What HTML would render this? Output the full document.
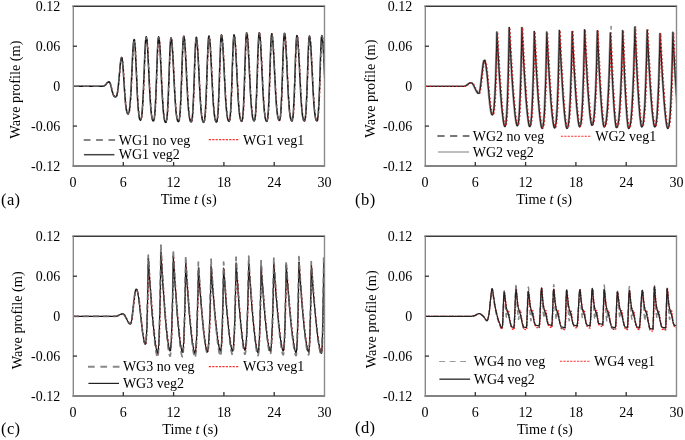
<!DOCTYPE html><html><head><meta charset="utf-8"><style>html,body{margin:0;padding:0;background:#fff;overflow:hidden;}svg{display:block;will-change:transform;}</style></head><body><svg width="685" height="440" viewBox="0 0 685 440" font-family='"Liberation Serif", serif'>
<rect width="100%" height="100%" fill="#fff"/>
<defs>
<clipPath id="clipa"><rect x="73.0" y="6.3" width="251.5" height="159.7"/></clipPath>
<clipPath id="clipb"><rect x="425.0" y="6.3" width="251.5" height="159.7"/></clipPath>
<clipPath id="clipc"><rect x="73.0" y="236.3" width="251.5" height="159.7"/></clipPath>
<clipPath id="clipd"><rect x="425.0" y="236.3" width="251.5" height="159.7"/></clipPath>
</defs>
<g clip-path="url(#clipa)" fill="none" stroke-linejoin="round">
<path d="M73.0,86.3 103.0,86.3 103.3,86.3 103.7,86.2 104.0,86.0 104.4,85.8 104.7,85.5 105.0,85.2 105.4,84.9 105.7,84.5 106.0,84.1 106.4,83.7 106.7,83.3 107.1,82.9 107.4,82.6 107.7,82.3 108.1,82.1 108.4,81.9 108.8,81.8 109.1,81.8 109.4,82.0 109.8,82.5 110.1,83.3 110.4,84.3 110.8,85.6 111.1,86.9 111.5,88.4 111.8,89.8 112.1,91.2 112.5,92.4 112.8,93.6 113.1,94.5 113.5,95.3 113.8,95.9 114.2,96.3 114.5,96.6 114.8,96.8 115.2,97.0 115.5,97.0 115.8,96.9 116.2,96.5 116.5,95.9 116.9,95.0 117.2,93.6 117.5,91.8 117.9,89.5 118.2,86.8 118.5,83.5 118.9,79.9 119.2,76.0 119.6,72.0 119.9,68.1 120.2,64.6 120.6,61.5 120.9,59.2 121.3,57.8 121.6,57.3 121.9,57.9 122.3,59.8 122.6,62.8 122.9,66.7 123.3,71.4 123.6,76.5 124.0,81.9 124.3,87.2 124.6,92.3 125.0,97.0 125.3,101.1 125.6,104.6 126.0,107.5 126.3,109.8 126.7,111.4 127.0,112.6 127.3,113.4 127.7,113.9 128.0,114.0 128.3,113.8 128.7,113.1 129.0,112.0 129.4,110.2 129.7,107.7 130.0,104.3 130.4,100.0 130.7,94.8 131.1,88.7 131.4,81.8 131.7,74.5 132.1,67.1 132.4,59.8 132.7,53.1 133.1,47.5 133.4,43.1 133.8,40.4 134.1,39.5 134.4,40.5 134.8,43.4 135.2,48.1 135.5,54.3 135.8,61.5 136.2,69.4 136.6,77.5 136.9,85.4 137.2,92.8 137.6,99.4 137.9,105.1 138.3,109.7 138.7,113.4 139.0,116.1 139.3,118.0 139.7,119.3 140.1,120.0 140.4,120.2 140.7,119.9 141.1,119.1 141.4,117.7 141.8,115.4 142.1,112.1 142.4,107.8 142.8,102.3 143.1,95.6 143.5,87.9 143.8,79.4 144.2,70.6 144.5,61.9 144.8,53.7 145.2,46.7 145.5,41.4 145.9,38.0 146.2,36.8 146.5,37.6 146.9,39.8 147.2,43.5 147.6,48.4 147.9,54.3 148.2,60.9 148.6,68.0 148.9,75.2 149.2,82.3 149.6,89.2 149.9,95.4 150.3,101.1 150.6,106.0 150.9,110.1 151.3,113.4 151.6,116.0 151.9,118.0 152.3,119.4 152.6,120.3 153.0,120.8 153.3,121.0 153.7,120.7 154.0,119.6 154.4,117.6 154.7,114.5 155.1,110.1 155.4,104.1 155.8,96.6 156.1,87.8 156.5,78.1 156.8,68.0 157.2,58.2 157.5,49.5 157.9,42.7 158.2,38.3 158.6,36.8 158.9,37.6 159.3,39.9 159.6,43.6 160.0,48.6 160.3,54.6 160.6,61.3 161.0,68.5 161.3,75.8 161.6,83.1 162.0,90.0 162.3,96.4 162.7,102.1 163.0,107.1 163.3,111.3 163.7,114.7 164.0,117.3 164.3,119.3 164.7,120.7 165.0,121.7 165.4,122.2 165.7,122.4 166.1,122.1 166.4,121.0 166.8,119.0 167.1,115.9 167.5,111.4 167.8,105.4 168.2,97.9 168.5,89.0 168.9,79.2 169.2,69.0 169.6,59.2 169.9,50.5 170.3,43.6 170.6,39.2 171.0,37.7 171.3,38.4 171.7,40.5 172.0,43.8 172.3,48.3 172.7,53.7 173.0,59.9 173.4,66.5 173.7,73.4 174.0,80.2 174.4,86.9 174.7,93.1 175.0,98.8 175.4,103.9 175.7,108.3 176.0,111.9 176.4,114.9 176.7,117.2 177.1,119.0 177.4,120.2 177.7,121.1 178.1,121.5 178.4,121.7 178.8,121.4 179.1,120.3 179.5,118.3 179.8,115.1 180.2,110.6 180.5,104.5 180.9,96.9 181.2,88.0 181.6,78.1 181.9,67.8 182.3,57.9 182.6,49.1 183.0,42.2 183.3,37.7 183.7,36.2 184.0,36.9 184.4,39.0 184.7,42.4 185.0,47.0 185.4,52.6 185.7,58.8 186.1,65.6 186.4,72.6 186.7,79.7 187.1,86.4 187.4,92.8 187.7,98.7 188.1,103.8 188.4,108.3 188.7,112.0 189.1,115.0 189.4,117.4 189.8,119.2 190.1,120.5 190.4,121.4 190.8,121.8 191.1,122.0 191.4,121.7 191.8,120.6 192.1,118.6 192.5,115.5 192.8,111.0 193.1,105.0 193.5,97.5 193.8,88.6 194.2,78.8 194.5,68.6 194.8,58.8 195.2,50.1 195.5,43.2 195.9,38.8 196.2,37.3 196.5,38.0 196.9,40.1 197.2,43.5 197.5,48.0 197.9,53.5 198.2,59.8 198.6,66.5 198.9,73.4 199.2,80.4 199.6,87.1 199.9,93.5 200.2,99.2 200.6,104.4 200.9,108.8 201.2,112.5 201.6,115.5 201.9,117.8 202.3,119.6 202.6,120.9 202.9,121.8 203.3,122.2 203.6,122.4 204.0,122.1 204.3,121.0 204.7,118.9 205.0,115.7 205.4,111.2 205.7,105.1 206.1,97.4 206.4,88.4 206.8,78.4 207.1,68.0 207.5,58.0 207.8,49.1 208.2,42.1 208.5,37.6 208.9,36.1 209.2,36.8 209.6,38.9 209.9,42.4 210.3,46.9 210.6,52.5 210.9,58.8 211.3,65.6 211.6,72.6 212.0,79.7 212.3,86.5 212.7,92.9 213.0,98.7 213.3,103.9 213.7,108.3 214.0,112.1 214.4,115.1 214.7,117.5 215.0,119.3 215.4,120.6 215.7,121.5 216.1,121.9 216.4,122.1 216.7,121.7 217.1,120.6 217.4,118.6 217.7,115.4 218.1,110.8 218.4,104.6 218.7,96.8 219.1,87.7 219.4,77.6 219.7,67.1 220.1,57.0 220.4,48.0 220.7,40.9 221.1,36.4 221.4,34.8 221.7,35.5 222.1,37.7 222.4,41.1 222.8,45.7 223.1,51.3 223.5,57.7 223.8,64.5 224.2,71.6 224.5,78.7 224.9,85.5 225.2,92.0 225.5,97.8 225.9,103.1 226.2,107.6 226.6,111.3 226.9,114.4 227.3,116.8 227.6,118.6 228.0,119.9 228.3,120.7 228.7,121.2 229.0,121.4 229.3,121.1 229.7,119.9 230.0,117.9 230.3,114.7 230.7,110.1 231.0,104.0 231.3,96.3 231.7,87.3 232.0,77.3 232.3,66.8 232.7,56.8 233.0,47.9 233.3,40.8 233.7,36.3 234.0,34.8 234.3,35.5 234.7,37.7 235.0,41.1 235.4,45.7 235.7,51.3 236.1,57.7 236.4,64.5 236.8,71.6 237.1,78.7 237.5,85.5 237.8,92.0 238.1,97.8 238.5,103.1 238.8,107.6 239.2,111.3 239.5,114.4 239.9,116.8 240.2,118.6 240.6,119.9 240.9,120.7 241.3,121.2 241.6,121.4 241.9,121.0 242.3,119.9 242.6,117.8 242.9,114.6 243.3,109.9 243.6,103.6 243.9,95.7 244.3,86.5 244.6,76.2 244.9,65.5 245.3,55.2 245.6,46.1 245.9,38.9 246.3,34.3 246.6,32.7 246.9,33.4 247.3,35.6 247.6,39.1 248.0,43.8 248.3,49.5 248.6,56.0 249.0,63.0 249.3,70.2 249.7,77.4 250.0,84.4 250.3,91.0 250.7,97.0 251.0,102.3 251.4,106.9 251.7,110.7 252.1,113.8 252.4,116.3 252.7,118.1 253.1,119.4 253.4,120.3 253.8,120.8 254.1,121.0 254.4,120.6 254.8,119.5 255.1,117.4 255.5,114.2 255.8,109.5 256.1,103.3 256.5,95.4 256.8,86.2 257.2,76.0 257.5,65.4 257.8,55.1 258.2,46.0 258.5,38.9 258.9,34.3 259.2,32.7 259.5,33.4 259.9,35.6 260.2,39.2 260.6,43.9 260.9,49.6 261.2,56.1 261.6,63.1 261.9,70.4 262.3,77.6 262.6,84.6 262.9,91.2 263.3,97.3 263.6,102.6 264.0,107.2 264.3,111.1 264.7,114.2 265.0,116.7 265.3,118.5 265.7,119.8 266.0,120.7 266.4,121.2 266.7,121.4 267.0,121.0 267.4,119.9 267.7,117.9 268.0,114.6 268.4,110.0 268.7,103.8 269.0,96.0 269.4,86.9 269.7,76.7 270.0,66.2 270.4,56.0 270.7,47.0 271.0,39.9 271.4,35.4 271.7,33.8 272.0,34.5 272.4,36.7 272.7,40.1 273.1,44.7 273.4,50.3 273.8,56.7 274.1,63.5 274.5,70.6 274.8,77.7 275.2,84.5 275.5,91.0 275.8,96.8 276.2,102.1 276.5,106.6 276.9,110.3 277.2,113.4 277.6,115.8 277.9,117.6 278.3,118.9 278.6,119.7 279.0,120.2 279.3,120.4 279.6,120.1 280.0,118.9 280.3,116.9 280.7,113.7 281.0,109.1 281.3,102.9 281.7,95.2 282.0,86.0 282.4,75.9 282.7,65.5 283.0,55.3 283.4,46.3 283.7,39.3 284.1,34.8 284.4,33.2 284.7,33.9 285.1,36.1 285.4,39.6 285.7,44.3 286.1,49.9 286.4,56.4 286.8,63.3 287.1,70.5 287.4,77.7 287.8,84.6 288.1,91.1 288.4,97.1 288.8,102.4 289.1,107.0 289.4,110.8 289.8,113.9 290.1,116.3 290.5,118.1 290.8,119.5 291.1,120.3 291.5,120.8 291.8,121.0 292.1,120.7 292.5,119.6 292.8,117.6 293.2,114.4 293.5,109.9 293.8,103.8 294.2,96.2 294.5,87.3 294.9,77.4 295.2,67.1 295.5,57.1 295.9,48.3 296.2,41.4 296.6,36.9 296.9,35.4 297.2,36.1 297.6,38.2 297.9,41.6 298.2,46.2 298.6,51.7 298.9,58.0 299.3,64.8 299.6,71.8 299.9,78.8 300.3,85.5 300.6,91.9 300.9,97.7 301.3,102.9 301.6,107.3 301.9,111.0 302.3,114.1 302.6,116.4 303.0,118.2 303.3,119.5 303.6,120.4 304.0,120.8 304.3,121.0 304.6,120.7 305.0,119.6 305.3,117.6 305.7,114.4 306.0,109.9 306.3,103.9 306.7,96.4 307.0,87.5 307.4,77.6 307.7,67.4 308.0,57.5 308.4,48.7 308.7,41.8 309.1,37.4 309.4,35.9 309.7,36.6 310.1,38.7 310.4,42.1 310.8,46.6 311.1,52.1 311.4,58.4 311.8,65.1 312.1,72.0 312.5,79.0 312.8,85.7 313.1,92.1 313.5,97.8 313.8,103.0 314.2,107.4 314.5,111.1 314.9,114.1 315.2,116.4 315.5,118.2 315.9,119.5 316.2,120.4 316.6,120.8 316.9,121.0 317.2,120.6 317.6,119.3 317.9,117.0 318.3,113.3 318.6,107.9 319.0,100.7 319.4,91.9 319.7,81.7 320.1,70.7 320.4,59.9 320.8,50.1 321.1,42.2 321.4,37.2 321.8,35.4 322.1,36.2 322.5,38.5 322.8,42.2 323.2,47.2 323.5,53.2 323.9,59.9 324.2,67.1 324.5,74.4 324.9,81.7 325.2,88.6 325.6,95.0 325.9,100.7 326.3,105.7 326.6,109.9 326.9,113.3 327.3,115.9 327.6,117.9 328.0,119.3 328.3,120.3 328.7,120.8 329.0,121.0" transform="translate(0.4,0)" stroke="#d02020" stroke-width="1.2" stroke-dasharray="1.5,2.5"/>
<path d="M73.0,86.3 103.0,86.3 103.3,86.3 103.7,86.2 104.0,86.0 104.4,85.8 104.7,85.5 105.0,85.2 105.4,84.9 105.7,84.5 106.0,84.1 106.4,83.7 106.7,83.3 107.1,82.9 107.4,82.6 107.7,82.3 108.1,82.1 108.4,81.9 108.8,81.8 109.1,81.8 109.4,82.0 109.8,82.5 110.1,83.3 110.4,84.3 110.8,85.6 111.1,86.9 111.5,88.4 111.8,89.8 112.1,91.2 112.5,92.4 112.8,93.6 113.1,94.5 113.5,95.3 113.8,95.9 114.2,96.3 114.5,96.6 114.8,96.8 115.2,97.0 115.5,97.0 115.8,96.9 116.2,96.5 116.5,95.9 116.9,95.0 117.2,93.6 117.5,91.8 117.9,89.5 118.2,86.8 118.5,83.5 118.9,79.9 119.2,76.0 119.6,72.0 119.9,68.1 120.2,64.6 120.6,61.5 120.9,59.2 121.3,57.8 121.6,57.3 121.9,57.9 122.3,59.8 122.6,62.8 122.9,66.7 123.3,71.4 123.6,76.5 124.0,81.9 124.3,87.2 124.6,92.3 125.0,97.0 125.3,101.1 125.6,104.6 126.0,107.5 126.3,109.8 126.7,111.4 127.0,112.6 127.3,113.4 127.7,113.9 128.0,114.0 128.3,113.8 128.7,113.1 129.0,112.0 129.4,110.2 129.7,107.7 130.0,104.3 130.4,100.0 130.7,94.8 131.1,88.7 131.4,81.8 131.7,74.5 132.1,67.1 132.4,59.8 132.7,53.1 133.1,47.5 133.4,43.1 133.8,40.4 134.1,39.5 134.4,40.5 134.8,43.4 135.2,48.1 135.5,54.3 135.8,61.5 136.2,69.4 136.6,77.5 136.9,85.4 137.2,92.8 137.6,99.4 137.9,105.1 138.3,109.7 138.7,113.4 139.0,116.1 139.3,118.0 139.7,119.3 140.1,120.0 140.4,120.2 140.7,119.9 141.1,119.1 141.4,117.7 141.8,115.4 142.1,112.1 142.4,107.8 142.8,102.3 143.1,95.6 143.5,87.9 143.8,79.4 144.2,70.6 144.5,61.9 144.8,53.7 145.2,46.7 145.5,41.4 145.9,38.0 146.2,36.8 146.5,37.6 146.9,39.8 147.2,43.5 147.6,48.4 147.9,54.3 148.2,60.9 148.6,68.0 148.9,75.2 149.2,82.3 149.6,89.2 149.9,95.4 150.3,101.1 150.6,106.0 150.9,110.1 151.3,113.4 151.6,116.0 151.9,118.0 152.3,119.4 152.6,120.3 153.0,120.8 153.3,121.0 153.7,120.7 154.0,119.6 154.4,117.6 154.7,114.5 155.1,110.1 155.4,104.1 155.8,96.6 156.1,87.8 156.5,78.1 156.8,68.0 157.2,58.2 157.5,49.5 157.9,42.7 158.2,38.3 158.6,36.8 158.9,37.6 159.3,39.9 159.6,43.6 160.0,48.6 160.3,54.6 160.6,61.3 161.0,68.5 161.3,75.8 161.6,83.1 162.0,90.0 162.3,96.4 162.7,102.1 163.0,107.1 163.3,111.3 163.7,114.7 164.0,117.3 164.3,119.3 164.7,120.7 165.0,121.7 165.4,122.2 165.7,122.4 166.1,122.1 166.4,121.0 166.8,119.0 167.1,115.9 167.5,111.4 167.8,105.4 168.2,97.9 168.5,89.0 168.9,79.2 169.2,69.0 169.6,59.2 169.9,50.5 170.3,43.6 170.6,39.2 171.0,37.7 171.3,38.4 171.7,40.5 172.0,43.8 172.3,48.3 172.7,53.7 173.0,59.9 173.4,66.5 173.7,73.4 174.0,80.2 174.4,86.9 174.7,93.1 175.0,98.8 175.4,103.9 175.7,108.3 176.0,111.9 176.4,114.9 176.7,117.2 177.1,119.0 177.4,120.2 177.7,121.1 178.1,121.5 178.4,121.7 178.8,121.4 179.1,120.3 179.5,118.3 179.8,115.1 180.2,110.6 180.5,104.5 180.9,96.9 181.2,88.0 181.6,78.1 181.9,67.8 182.3,57.9 182.6,49.1 183.0,42.2 183.3,37.7 183.7,36.2 184.0,36.9 184.4,39.0 184.7,42.4 185.0,47.0 185.4,52.6 185.7,58.8 186.1,65.6 186.4,72.6 186.7,79.7 187.1,86.4 187.4,92.8 187.7,98.7 188.1,103.8 188.4,108.3 188.7,112.0 189.1,115.0 189.4,117.4 189.8,119.2 190.1,120.5 190.4,121.4 190.8,121.8 191.1,122.0 191.4,121.7 191.8,120.6 192.1,118.6 192.5,115.5 192.8,111.0 193.1,105.0 193.5,97.5 193.8,88.6 194.2,78.8 194.5,68.6 194.8,58.8 195.2,50.1 195.5,43.2 195.9,38.8 196.2,37.3 196.5,38.0 196.9,40.1 197.2,43.5 197.5,48.0 197.9,53.5 198.2,59.8 198.6,66.5 198.9,73.4 199.2,80.4 199.6,87.1 199.9,93.5 200.2,99.2 200.6,104.4 200.9,108.8 201.2,112.5 201.6,115.5 201.9,117.8 202.3,119.6 202.6,120.9 202.9,121.8 203.3,122.2 203.6,122.4 204.0,122.1 204.3,121.0 204.7,118.9 205.0,115.7 205.4,111.2 205.7,105.1 206.1,97.4 206.4,88.4 206.8,78.4 207.1,68.0 207.5,58.0 207.8,49.1 208.2,42.1 208.5,37.6 208.9,36.1 209.2,36.8 209.6,38.9 209.9,42.4 210.3,46.9 210.6,52.5 210.9,58.8 211.3,65.6 211.6,72.6 212.0,79.7 212.3,86.5 212.7,92.9 213.0,98.7 213.3,103.9 213.7,108.3 214.0,112.1 214.4,115.1 214.7,117.5 215.0,119.3 215.4,120.6 215.7,121.5 216.1,121.9 216.4,122.1 216.7,121.7 217.1,120.6 217.4,118.6 217.7,115.4 218.1,110.8 218.4,104.6 218.7,96.8 219.1,87.7 219.4,77.6 219.7,67.1 220.1,57.0 220.4,48.0 220.7,40.9 221.1,36.4 221.4,34.8 221.7,35.5 222.1,37.7 222.4,41.1 222.8,45.7 223.1,51.3 223.5,57.7 223.8,64.5 224.2,71.6 224.5,78.7 224.9,85.5 225.2,92.0 225.5,97.8 225.9,103.1 226.2,107.6 226.6,111.3 226.9,114.4 227.3,116.8 227.6,118.6 228.0,119.9 228.3,120.7 228.7,121.2 229.0,121.4 229.3,121.1 229.7,119.9 230.0,117.9 230.3,114.7 230.7,110.1 231.0,104.0 231.3,96.3 231.7,87.3 232.0,77.3 232.3,66.8 232.7,56.8 233.0,47.9 233.3,40.8 233.7,36.3 234.0,34.8 234.3,35.5 234.7,37.7 235.0,41.1 235.4,45.7 235.7,51.3 236.1,57.7 236.4,64.5 236.8,71.6 237.1,78.7 237.5,85.5 237.8,92.0 238.1,97.8 238.5,103.1 238.8,107.6 239.2,111.3 239.5,114.4 239.9,116.8 240.2,118.6 240.6,119.9 240.9,120.7 241.3,121.2 241.6,121.4 241.9,121.0 242.3,119.9 242.6,117.8 242.9,114.6 243.3,109.9 243.6,103.6 243.9,95.7 244.3,86.5 244.6,76.2 244.9,65.5 245.3,55.2 245.6,46.1 245.9,38.9 246.3,34.3 246.6,32.7 246.9,33.4 247.3,35.6 247.6,39.1 248.0,43.8 248.3,49.5 248.6,56.0 249.0,63.0 249.3,70.2 249.7,77.4 250.0,84.4 250.3,91.0 250.7,97.0 251.0,102.3 251.4,106.9 251.7,110.7 252.1,113.8 252.4,116.3 252.7,118.1 253.1,119.4 253.4,120.3 253.8,120.8 254.1,121.0 254.4,120.6 254.8,119.5 255.1,117.4 255.5,114.2 255.8,109.5 256.1,103.3 256.5,95.4 256.8,86.2 257.2,76.0 257.5,65.4 257.8,55.1 258.2,46.0 258.5,38.9 258.9,34.3 259.2,32.7 259.5,33.4 259.9,35.6 260.2,39.2 260.6,43.9 260.9,49.6 261.2,56.1 261.6,63.1 261.9,70.4 262.3,77.6 262.6,84.6 262.9,91.2 263.3,97.3 263.6,102.6 264.0,107.2 264.3,111.1 264.7,114.2 265.0,116.7 265.3,118.5 265.7,119.8 266.0,120.7 266.4,121.2 266.7,121.4 267.0,121.0 267.4,119.9 267.7,117.9 268.0,114.6 268.4,110.0 268.7,103.8 269.0,96.0 269.4,86.9 269.7,76.7 270.0,66.2 270.4,56.0 270.7,47.0 271.0,39.9 271.4,35.4 271.7,33.8 272.0,34.5 272.4,36.7 272.7,40.1 273.1,44.7 273.4,50.3 273.8,56.7 274.1,63.5 274.5,70.6 274.8,77.7 275.2,84.5 275.5,91.0 275.8,96.8 276.2,102.1 276.5,106.6 276.9,110.3 277.2,113.4 277.6,115.8 277.9,117.6 278.3,118.9 278.6,119.7 279.0,120.2 279.3,120.4 279.6,120.1 280.0,118.9 280.3,116.9 280.7,113.7 281.0,109.1 281.3,102.9 281.7,95.2 282.0,86.0 282.4,75.9 282.7,65.5 283.0,55.3 283.4,46.3 283.7,39.3 284.1,34.8 284.4,33.2 284.7,33.9 285.1,36.1 285.4,39.6 285.7,44.3 286.1,49.9 286.4,56.4 286.8,63.3 287.1,70.5 287.4,77.7 287.8,84.6 288.1,91.1 288.4,97.1 288.8,102.4 289.1,107.0 289.4,110.8 289.8,113.9 290.1,116.3 290.5,118.1 290.8,119.5 291.1,120.3 291.5,120.8 291.8,121.0 292.1,120.7 292.5,119.6 292.8,117.6 293.2,114.4 293.5,109.9 293.8,103.8 294.2,96.2 294.5,87.3 294.9,77.4 295.2,67.1 295.5,57.1 295.9,48.3 296.2,41.4 296.6,36.9 296.9,35.4 297.2,36.1 297.6,38.2 297.9,41.6 298.2,46.2 298.6,51.7 298.9,58.0 299.3,64.8 299.6,71.8 299.9,78.8 300.3,85.5 300.6,91.9 300.9,97.7 301.3,102.9 301.6,107.3 301.9,111.0 302.3,114.1 302.6,116.4 303.0,118.2 303.3,119.5 303.6,120.4 304.0,120.8 304.3,121.0 304.6,120.7 305.0,119.6 305.3,117.6 305.7,114.4 306.0,109.9 306.3,103.9 306.7,96.4 307.0,87.5 307.4,77.6 307.7,67.4 308.0,57.5 308.4,48.7 308.7,41.8 309.1,37.4 309.4,35.9 309.7,36.6 310.1,38.7 310.4,42.1 310.8,46.6 311.1,52.1 311.4,58.4 311.8,65.1 312.1,72.0 312.5,79.0 312.8,85.7 313.1,92.1 313.5,97.8 313.8,103.0 314.2,107.4 314.5,111.1 314.9,114.1 315.2,116.4 315.5,118.2 315.9,119.5 316.2,120.4 316.6,120.8 316.9,121.0 317.2,120.6 317.6,119.3 317.9,117.0 318.3,113.3 318.6,107.9 319.0,100.7 319.4,91.9 319.7,81.7 320.1,70.7 320.4,59.9 320.8,50.1 321.1,42.2 321.4,37.2 321.8,35.4 322.1,36.2 322.5,38.5 322.8,42.2 323.2,47.2 323.5,53.2 323.9,59.9 324.2,67.1 324.5,74.4 324.9,81.7 325.2,88.6 325.6,95.0 325.9,100.7 326.3,105.7 326.6,109.9 326.9,113.3 327.3,115.9 327.6,117.9 328.0,119.3 328.3,120.3 328.7,120.8 329.0,121.0" stroke="#1a1a1a" stroke-width="1.5"/>
<path d="M73.0,86.3 103.0,86.3 103.3,86.3 103.7,86.2 104.0,86.0 104.4,85.8 104.7,85.5 105.0,85.2 105.4,84.9 105.7,84.5 106.0,84.1 106.4,83.7 106.7,83.3 107.1,82.9 107.4,82.6 107.7,82.3 108.1,82.1 108.4,81.9 108.8,81.8 109.1,81.8 109.4,82.0 109.8,82.5 110.1,83.3 110.4,84.3 110.8,85.6 111.1,86.9 111.5,88.4 111.8,89.8 112.1,91.2 112.5,92.4 112.8,93.6 113.1,94.5 113.5,95.3 113.8,95.9 114.2,96.3 114.5,96.6 114.8,96.8 115.2,97.0 115.5,97.0 115.8,96.9 116.2,96.5 116.5,95.9 116.9,95.0 117.2,93.6 117.5,91.8 117.9,89.5 118.2,86.8 118.5,83.5 118.9,79.9 119.2,76.0 119.6,72.0 119.9,68.1 120.2,64.6 120.6,61.5 120.9,59.2 121.3,57.8 121.6,57.3 121.9,57.9 122.3,59.8 122.6,62.8 122.9,66.7 123.3,71.4 123.6,76.5 124.0,81.9 124.3,87.2 124.6,92.3 125.0,97.0 125.3,101.1 125.6,104.6 126.0,107.5 126.3,109.8 126.7,111.4 127.0,112.6 127.3,113.4 127.7,113.9 128.0,114.0 128.3,113.8 128.7,113.1 129.0,112.0 129.4,110.2 129.7,107.7 130.0,104.3 130.4,100.0 130.7,94.8 131.1,88.7 131.4,81.8 131.7,74.5 132.1,67.1 132.4,59.8 132.7,53.1 133.1,47.5 133.4,43.1 133.8,40.4 134.1,39.5 134.4,40.5 134.8,43.4 135.2,48.1 135.5,54.3 135.8,61.5 136.2,69.4 136.6,77.5 136.9,85.4 137.2,92.8 137.6,99.4 137.9,105.1 138.3,109.7 138.7,113.4 139.0,116.1 139.3,118.0 139.7,119.3 140.1,120.0 140.4,120.2 140.7,119.9 141.1,119.1 141.4,117.7 141.8,115.4 142.1,112.1 142.4,107.8 142.8,102.3 143.1,95.6 143.5,87.9 143.8,79.4 144.2,70.6 144.5,61.9 144.8,53.7 145.2,46.7 145.5,41.4 145.9,38.0 146.2,36.8 146.5,37.6 146.9,39.8 147.2,43.5 147.6,48.4 147.9,54.3 148.2,60.9 148.6,68.0 148.9,75.2 149.2,82.3 149.6,89.2 149.9,95.4 150.3,101.1 150.6,106.0 150.9,110.1 151.3,113.4 151.6,116.0 151.9,118.0 152.3,119.4 152.6,120.3 153.0,120.8 153.3,121.0 153.7,120.7 154.0,119.6 154.4,117.6 154.7,114.5 155.1,110.1 155.4,104.1 155.8,96.6 156.1,87.8 156.5,78.1 156.8,68.0 157.2,58.2 157.5,49.5 157.9,42.7 158.2,38.3 158.6,36.8 158.9,37.6 159.3,39.9 159.6,43.6 160.0,48.6 160.3,54.6 160.6,61.3 161.0,68.5 161.3,75.8 161.6,83.1 162.0,90.0 162.3,96.4 162.7,102.1 163.0,107.1 163.3,111.3 163.7,114.7 164.0,117.3 164.3,119.3 164.7,120.7 165.0,121.7 165.4,122.2 165.7,122.4 166.1,122.1 166.4,121.0 166.8,119.0 167.1,115.9 167.5,111.4 167.8,105.4 168.2,97.9 168.5,89.0 168.9,79.2 169.2,69.0 169.6,59.2 169.9,50.5 170.3,43.6 170.6,39.2 171.0,37.7 171.3,38.4 171.7,40.5 172.0,43.8 172.3,48.3 172.7,53.7 173.0,59.9 173.4,66.5 173.7,73.4 174.0,80.2 174.4,86.9 174.7,93.1 175.0,98.8 175.4,103.9 175.7,108.3 176.0,111.9 176.4,114.9 176.7,117.2 177.1,119.0 177.4,120.2 177.7,121.1 178.1,121.5 178.4,121.7 178.8,121.4 179.1,120.3 179.5,118.3 179.8,115.1 180.2,110.6 180.5,104.5 180.9,96.9 181.2,88.0 181.6,78.1 181.9,67.8 182.3,57.9 182.6,49.1 183.0,42.2 183.3,37.7 183.7,36.2 184.0,36.9 184.4,39.0 184.7,42.4 185.0,47.0 185.4,52.6 185.7,58.8 186.1,65.6 186.4,72.6 186.7,79.7 187.1,86.4 187.4,92.8 187.7,98.7 188.1,103.8 188.4,108.3 188.7,112.0 189.1,115.0 189.4,117.4 189.8,119.2 190.1,120.5 190.4,121.4 190.8,121.8 191.1,122.0 191.4,121.7 191.8,120.6 192.1,118.6 192.5,115.5 192.8,111.0 193.1,105.0 193.5,97.5 193.8,88.6 194.2,78.8 194.5,68.6 194.8,58.8 195.2,50.1 195.5,43.2 195.9,38.8 196.2,37.3 196.5,38.0 196.9,40.1 197.2,43.5 197.5,48.0 197.9,53.5 198.2,59.8 198.6,66.5 198.9,73.4 199.2,80.4 199.6,87.1 199.9,93.5 200.2,99.2 200.6,104.4 200.9,108.8 201.2,112.5 201.6,115.5 201.9,117.8 202.3,119.6 202.6,120.9 202.9,121.8 203.3,122.2 203.6,122.4 204.0,122.1 204.3,121.0 204.7,118.9 205.0,115.7 205.4,111.2 205.7,105.1 206.1,97.4 206.4,88.4 206.8,78.4 207.1,68.0 207.5,58.0 207.8,49.1 208.2,42.1 208.5,37.6 208.9,36.1 209.2,36.8 209.6,38.9 209.9,42.4 210.3,46.9 210.6,52.5 210.9,58.8 211.3,65.6 211.6,72.6 212.0,79.7 212.3,86.5 212.7,92.9 213.0,98.7 213.3,103.9 213.7,108.3 214.0,112.1 214.4,115.1 214.7,117.5 215.0,119.3 215.4,120.6 215.7,121.5 216.1,121.9 216.4,122.1 216.7,121.7 217.1,120.6 217.4,118.6 217.7,115.4 218.1,110.8 218.4,104.6 218.7,96.8 219.1,87.7 219.4,77.6 219.7,67.1 220.1,57.0 220.4,48.0 220.7,40.9 221.1,36.4 221.4,34.8 221.7,35.5 222.1,37.7 222.4,41.1 222.8,45.7 223.1,51.3 223.5,57.7 223.8,64.5 224.2,71.6 224.5,78.7 224.9,85.5 225.2,92.0 225.5,97.8 225.9,103.1 226.2,107.6 226.6,111.3 226.9,114.4 227.3,116.8 227.6,118.6 228.0,119.9 228.3,120.7 228.7,121.2 229.0,121.4 229.3,121.1 229.7,119.9 230.0,117.9 230.3,114.7 230.7,110.1 231.0,104.0 231.3,96.3 231.7,87.3 232.0,77.3 232.3,66.8 232.7,56.8 233.0,47.9 233.3,40.8 233.7,36.3 234.0,34.8 234.3,35.5 234.7,37.7 235.0,41.1 235.4,45.7 235.7,51.3 236.1,57.7 236.4,64.5 236.8,71.6 237.1,78.7 237.5,85.5 237.8,92.0 238.1,97.8 238.5,103.1 238.8,107.6 239.2,111.3 239.5,114.4 239.9,116.8 240.2,118.6 240.6,119.9 240.9,120.7 241.3,121.2 241.6,121.4 241.9,121.0 242.3,119.9 242.6,117.8 242.9,114.6 243.3,109.9 243.6,103.6 243.9,95.7 244.3,86.5 244.6,76.2 244.9,65.5 245.3,55.2 245.6,46.1 245.9,38.9 246.3,34.3 246.6,32.7 246.9,33.4 247.3,35.6 247.6,39.1 248.0,43.8 248.3,49.5 248.6,56.0 249.0,63.0 249.3,70.2 249.7,77.4 250.0,84.4 250.3,91.0 250.7,97.0 251.0,102.3 251.4,106.9 251.7,110.7 252.1,113.8 252.4,116.3 252.7,118.1 253.1,119.4 253.4,120.3 253.8,120.8 254.1,121.0 254.4,120.6 254.8,119.5 255.1,117.4 255.5,114.2 255.8,109.5 256.1,103.3 256.5,95.4 256.8,86.2 257.2,76.0 257.5,65.4 257.8,55.1 258.2,46.0 258.5,38.9 258.9,34.3 259.2,32.7 259.5,33.4 259.9,35.6 260.2,39.2 260.6,43.9 260.9,49.6 261.2,56.1 261.6,63.1 261.9,70.4 262.3,77.6 262.6,84.6 262.9,91.2 263.3,97.3 263.6,102.6 264.0,107.2 264.3,111.1 264.7,114.2 265.0,116.7 265.3,118.5 265.7,119.8 266.0,120.7 266.4,121.2 266.7,121.4 267.0,121.0 267.4,119.9 267.7,117.9 268.0,114.6 268.4,110.0 268.7,103.8 269.0,96.0 269.4,86.9 269.7,76.7 270.0,66.2 270.4,56.0 270.7,47.0 271.0,39.9 271.4,35.4 271.7,33.8 272.0,34.5 272.4,36.7 272.7,40.1 273.1,44.7 273.4,50.3 273.8,56.7 274.1,63.5 274.5,70.6 274.8,77.7 275.2,84.5 275.5,91.0 275.8,96.8 276.2,102.1 276.5,106.6 276.9,110.3 277.2,113.4 277.6,115.8 277.9,117.6 278.3,118.9 278.6,119.7 279.0,120.2 279.3,120.4 279.6,120.1 280.0,118.9 280.3,116.9 280.7,113.7 281.0,109.1 281.3,102.9 281.7,95.2 282.0,86.0 282.4,75.9 282.7,65.5 283.0,55.3 283.4,46.3 283.7,39.3 284.1,34.8 284.4,33.2 284.7,33.9 285.1,36.1 285.4,39.6 285.7,44.3 286.1,49.9 286.4,56.4 286.8,63.3 287.1,70.5 287.4,77.7 287.8,84.6 288.1,91.1 288.4,97.1 288.8,102.4 289.1,107.0 289.4,110.8 289.8,113.9 290.1,116.3 290.5,118.1 290.8,119.5 291.1,120.3 291.5,120.8 291.8,121.0 292.1,120.7 292.5,119.6 292.8,117.6 293.2,114.4 293.5,109.9 293.8,103.8 294.2,96.2 294.5,87.3 294.9,77.4 295.2,67.1 295.5,57.1 295.9,48.3 296.2,41.4 296.6,36.9 296.9,35.4 297.2,36.1 297.6,38.2 297.9,41.6 298.2,46.2 298.6,51.7 298.9,58.0 299.3,64.8 299.6,71.8 299.9,78.8 300.3,85.5 300.6,91.9 300.9,97.7 301.3,102.9 301.6,107.3 301.9,111.0 302.3,114.1 302.6,116.4 303.0,118.2 303.3,119.5 303.6,120.4 304.0,120.8 304.3,121.0 304.6,120.7 305.0,119.6 305.3,117.6 305.7,114.4 306.0,109.9 306.3,103.9 306.7,96.4 307.0,87.5 307.4,77.6 307.7,67.4 308.0,57.5 308.4,48.7 308.7,41.8 309.1,37.4 309.4,35.9 309.7,36.6 310.1,38.7 310.4,42.1 310.8,46.6 311.1,52.1 311.4,58.4 311.8,65.1 312.1,72.0 312.5,79.0 312.8,85.7 313.1,92.1 313.5,97.8 313.8,103.0 314.2,107.4 314.5,111.1 314.9,114.1 315.2,116.4 315.5,118.2 315.9,119.5 316.2,120.4 316.6,120.8 316.9,121.0 317.2,120.6 317.6,119.3 317.9,117.0 318.3,113.3 318.6,107.9 319.0,100.7 319.4,91.9 319.7,81.7 320.1,70.7 320.4,59.9 320.8,50.1 321.1,42.2 321.4,37.2 321.8,35.4 322.1,36.2 322.5,38.5 322.8,42.2 323.2,47.2 323.5,53.2 323.9,59.9 324.2,67.1 324.5,74.4 324.9,81.7 325.2,88.6 325.6,95.0 325.9,100.7 326.3,105.7 326.6,109.9 326.9,113.3 327.3,115.9 327.6,117.9 328.0,119.3 328.3,120.3 328.7,120.8 329.0,121.0" stroke="#777" stroke-width="0.9" stroke-dasharray="6,4"/>
</g>
<g clip-path="url(#clipb)" fill="none" stroke-linejoin="round">
<path d="M425.0,86.3 464.0,86.3 464.3,86.3 464.7,86.3 465.0,86.2 465.4,86.0 465.7,85.9 466.1,85.7 466.4,85.4 466.7,85.2 467.1,84.9 467.4,84.7 467.8,84.4 468.1,84.1 468.5,83.9 468.8,83.6 469.1,83.4 469.5,83.2 469.8,83.0 470.2,82.9 470.5,82.8 470.9,82.7 471.2,82.7 471.5,82.8 471.9,82.9 472.2,83.1 472.5,83.5 472.9,83.9 473.2,84.4 473.5,85.0 473.9,85.6 474.2,86.3 474.5,87.0 474.9,87.7 475.2,88.5 475.6,89.2 475.9,89.9 476.2,90.6 476.6,91.2 476.9,91.8 477.2,92.3 477.6,92.7 477.9,93.1 478.2,93.3 478.6,93.4 478.9,93.5 479.2,93.2 479.6,92.2 479.9,90.7 480.3,88.6 480.6,86.1 481.0,83.2 481.3,80.1 481.7,76.8 482.1,73.6 482.4,70.5 482.8,67.6 483.1,65.1 483.4,63.0 483.8,61.5 484.1,60.5 484.5,60.2 484.8,60.5 485.2,61.2 485.5,62.5 485.9,64.2 486.2,66.3 486.5,68.9 486.9,71.8 487.2,75.0 487.6,78.4 487.9,82.0 488.2,85.7 488.6,89.4 488.9,93.1 489.2,96.7 489.6,100.1 489.9,103.3 490.3,106.2 490.6,108.8 490.9,110.9 491.3,112.6 491.6,113.9 492.0,114.6 492.3,114.9 492.6,114.8 493.0,114.4 493.3,113.4 493.6,111.7 494.0,109.2 494.3,105.7 494.6,101.2 495.0,95.5 495.3,88.6 495.7,80.3 496.0,70.6 496.3,59.3 496.7,46.4 497.0,31.9 497.3,38.4 497.7,44.7 498.0,50.8 498.4,56.7 498.7,62.5 499.0,68.1 499.4,73.4 499.7,78.6 500.1,83.6 500.4,88.4 500.7,92.9 501.1,97.2 501.4,101.3 501.7,105.2 502.1,108.8 502.4,112.1 502.8,115.2 503.1,118.0 503.4,120.5 503.8,122.6 504.1,124.3 504.5,125.6 504.8,126.2 505.1,126.1 505.5,125.4 505.8,124.0 506.2,121.6 506.5,118.0 506.9,113.0 507.2,106.4 507.6,98.2 507.9,88.2 508.3,76.3 508.6,62.2 509.0,46.0 509.3,27.4 509.6,34.1 510.0,40.7 510.3,47.0 510.7,53.2 511.0,59.2 511.4,65.0 511.7,70.6 512.0,75.9 512.4,81.1 512.7,86.1 513.1,90.8 513.4,95.3 513.8,99.5 514.1,103.6 514.5,107.3 514.8,110.8 515.1,114.0 515.5,116.9 515.8,119.4 516.2,121.6 516.5,123.4 516.9,124.8 517.2,125.4 517.5,125.3 517.9,124.8 518.2,123.6 518.6,121.6 518.9,118.7 519.3,114.6 519.6,109.2 519.9,102.5 520.3,94.3 520.6,84.5 521.0,73.1 521.3,59.8 521.7,44.6 522.0,27.4 522.3,34.5 522.7,41.4 523.0,48.1 523.4,54.5 523.7,60.8 524.1,66.8 524.4,72.7 524.8,78.3 525.1,83.6 525.5,88.7 525.8,93.6 526.1,98.2 526.5,102.6 526.8,106.6 527.2,110.4 527.5,113.8 527.9,117.0 528.2,119.7 528.6,122.1 528.9,124.1 529.3,125.5 529.6,126.2 529.9,126.1 530.3,125.6 530.6,124.5 531.0,122.6 531.3,119.7 531.7,115.7 532.0,110.6 532.3,104.1 532.7,96.1 533.0,86.7 533.4,75.6 533.7,62.7 534.1,48.0 534.4,31.4 534.7,38.3 535.1,45.1 535.4,51.6 535.8,57.9 536.1,64.1 536.5,70.0 536.8,75.7 537.2,81.1 537.5,86.4 537.9,91.4 538.2,96.1 538.5,100.6 538.9,104.9 539.2,108.9 539.6,112.5 539.9,115.9 540.3,119.0 540.6,121.7 541.0,124.0 541.3,125.9 541.7,127.3 542.0,128.0 542.4,127.9 542.7,127.4 543.0,126.3 543.4,124.3 543.8,121.4 544.1,117.4 544.5,112.2 544.8,105.6 545.1,97.6 545.5,88.0 545.9,76.7 546.2,63.7 546.5,48.8 546.9,32.0 547.2,38.9 547.6,45.5 547.9,52.0 548.3,58.3 548.6,64.3 549.0,70.2 549.3,75.8 549.7,81.2 550.0,86.4 550.4,91.4 550.7,96.1 551.0,100.5 551.4,104.7 551.7,108.7 552.1,112.3 552.4,115.6 552.8,118.7 553.1,121.4 553.5,123.7 553.8,125.5 554.2,126.9 554.5,127.6 554.8,127.5 555.2,127.1 555.5,126.1 555.8,124.5 556.2,122.0 556.5,118.6 556.8,114.2 557.2,108.6 557.5,101.8 557.8,93.7 558.2,84.2 558.5,73.1 558.8,60.5 559.2,46.3 559.5,30.3 559.8,37.3 560.2,44.1 560.5,50.7 560.8,57.1 561.2,63.3 561.5,69.3 561.9,75.1 562.2,80.6 562.5,85.9 562.9,91.0 563.2,95.8 563.5,100.3 563.9,104.6 564.2,108.6 564.5,112.4 564.9,115.8 565.2,118.9 565.6,121.6 565.9,124.0 566.2,125.9 566.6,127.3 566.9,128.0 567.2,127.9 567.6,127.6 567.9,126.8 568.2,125.4 568.6,123.3 568.9,120.5 569.3,116.7 569.6,112.1 569.9,106.4 570.3,99.5 570.6,91.5 570.9,82.3 571.3,71.7 571.6,59.7 572.0,46.3 572.3,31.4 572.6,38.5 573.0,45.5 573.3,52.2 573.7,58.7 574.0,65.0 574.4,71.0 574.7,76.8 575.1,82.3 575.4,87.7 575.8,92.7 576.1,97.5 576.5,102.0 576.8,106.2 577.2,110.1 577.5,113.7 577.9,116.9 578.2,119.8 578.6,122.3 578.9,124.3 579.3,125.8 579.6,126.5 579.9,126.4 580.3,126.0 580.6,125.0 581.0,123.4 581.3,120.9 581.6,117.6 582.0,113.2 582.3,107.6 582.7,100.9 583.0,92.8 583.3,83.3 583.7,72.3 584.0,59.8 584.4,45.6 584.7,29.7 585.0,36.8 585.4,43.8 585.7,50.5 586.1,57.0 586.4,63.3 586.8,69.3 587.1,75.1 587.4,80.7 587.8,86.0 588.1,91.1 588.5,95.9 588.8,100.4 589.2,104.6 589.5,108.5 589.8,112.1 590.2,115.3 590.5,118.2 590.9,120.7 591.2,122.7 591.6,124.2 591.9,124.9 592.2,124.8 592.6,124.5 592.9,123.7 593.3,122.3 593.6,120.3 594.0,117.5 594.4,113.9 594.7,109.3 595.0,103.8 595.4,97.1 595.8,89.3 596.1,80.3 596.5,69.9 596.8,58.3 597.1,45.2 597.5,30.6 597.8,38.5 598.2,46.2 598.5,53.7 598.9,60.8 599.2,67.7 599.6,74.2 599.9,80.5 600.3,86.5 600.6,92.2 601.0,97.5 601.3,102.5 601.7,107.1 602.0,111.3 602.4,115.2 602.7,118.6 603.1,121.5 603.4,123.9 603.8,125.6 604.1,126.5 604.4,126.5 604.8,126.2 605.1,125.7 605.4,124.9 605.8,123.6 606.1,121.8 606.5,119.5 606.8,116.6 607.1,113.1 607.5,108.8 607.8,103.9 608.1,98.1 608.5,91.6 608.8,84.1 609.2,75.8 609.5,66.6 609.8,56.3 610.2,45.1 610.5,32.8 610.8,41.5 611.2,49.9 611.5,58.0 611.9,65.7 612.2,73.1 612.6,80.2 612.9,86.8 613.3,93.1 613.6,98.9 614.0,104.4 614.3,109.4 614.7,113.9 615.0,117.9 615.4,121.3 615.7,124.1 616.1,126.2 616.4,127.2 616.7,127.2 617.1,126.9 617.4,126.4 617.7,125.5 618.1,124.2 618.4,122.4 618.8,120.0 619.1,117.0 619.4,113.3 619.8,109.0 620.1,103.8 620.4,97.9 620.8,91.1 621.1,83.4 621.5,74.8 621.8,65.3 622.1,54.7 622.5,43.1 622.8,30.4 623.1,39.4 623.5,48.1 623.8,56.5 624.2,64.5 624.5,72.1 624.8,79.4 625.2,86.2 625.5,92.7 625.9,98.8 626.2,104.4 626.6,109.6 626.9,114.2 627.2,118.4 627.6,121.9 627.9,124.8 628.3,127.0 628.6,128.0 628.9,128.0 629.3,127.7 629.6,127.2 629.9,126.2 630.3,124.9 630.6,123.0 631.0,120.5 631.3,117.3 631.6,113.5 632.0,108.9 632.3,103.6 632.6,97.4 633.0,90.3 633.3,82.3 633.7,73.3 634.0,63.3 634.3,52.3 634.7,40.2 635.0,26.9 635.3,34.7 635.7,42.4 636.0,49.7 636.3,56.8 636.7,63.6 637.0,70.2 637.3,76.5 637.7,82.5 638.0,88.2 638.4,93.6 638.7,98.7 639.0,103.5 639.4,107.9 639.7,112.0 640.0,115.7 640.4,118.9 640.7,121.7 641.0,124.0 641.4,125.7 641.7,126.5 642.1,126.4 642.4,126.1 642.8,125.3 643.1,123.9 643.5,121.8 643.8,119.0 644.1,115.2 644.5,110.6 644.9,104.9 645.2,98.0 645.5,90.0 645.9,80.8 646.2,70.2 646.6,58.2 646.9,44.8 647.3,29.9 647.6,36.8 648.0,43.6 648.3,50.1 648.6,56.4 649.0,62.6 649.3,68.5 649.7,74.2 650.0,79.6 650.3,84.9 650.7,89.9 651.0,94.6 651.3,99.1 651.7,103.4 652.0,107.4 652.3,111.0 652.7,114.4 653.0,117.5 653.4,120.2 653.7,122.5 654.0,124.4 654.4,125.8 654.7,126.5 655.0,126.4 655.4,126.1 655.7,125.3 656.1,124.0 656.4,122.0 656.7,119.2 657.1,115.6 657.4,111.1 657.7,105.6 658.1,99.1 658.4,91.4 658.8,82.4 659.1,72.2 659.4,60.7 659.8,47.8 660.1,33.4 660.4,40.2 660.8,46.8 661.1,53.2 661.5,59.4 661.8,65.4 662.2,71.2 662.5,76.7 662.9,82.1 663.2,87.2 663.6,92.1 663.9,96.8 664.2,101.2 664.6,105.4 664.9,109.3 665.3,112.9 665.6,116.2 666.0,119.2 666.3,121.8 666.7,124.1 667.0,126.0 667.4,127.3 667.7,128.0 668.1,127.9 668.4,127.5 668.8,126.5 669.1,124.9 669.5,122.5 669.8,119.2 670.2,114.8 670.5,109.3 670.9,102.6 671.2,94.6 671.6,85.2 671.9,74.4 672.3,62.0 672.6,47.9 673.0,32.2 673.3,39.3 673.7,46.2 674.0,52.9 674.4,59.4 674.7,65.6 675.1,71.7 675.4,77.4 675.7,83.0 676.1,88.3 676.4,93.3 676.8,98.1 677.1,102.6 677.5,106.8 677.8,110.7 678.1,114.2 678.5,117.5 678.8,120.3 679.2,122.8 679.5,124.8 679.9,126.3 680.2,127.0 680.6,126.9 680.9,126.5 681.3,125.5 681.6,123.9 682.0,121.5 682.3,118.1 682.7,113.8 683.0,108.3 683.4,101.6 683.7,93.5 684.1,84.1 684.4,73.3 684.8,60.8 685.1,46.8 685.5,31.0" transform="translate(-0.6,0)" stroke="#a0a0a0" stroke-width="1.4"/>
<path d="M425.0,86.3 464.0,86.3 464.3,86.3 464.7,86.3 465.0,86.2 465.4,86.0 465.7,85.9 466.1,85.7 466.4,85.4 466.7,85.2 467.1,84.9 467.4,84.7 467.8,84.4 468.1,84.1 468.5,83.9 468.8,83.6 469.1,83.4 469.5,83.2 469.8,83.0 470.2,82.9 470.5,82.8 470.9,82.7 471.2,82.7 471.5,82.8 471.9,82.9 472.2,83.1 472.5,83.5 472.9,83.9 473.2,84.4 473.5,85.0 473.9,85.6 474.2,86.3 474.5,87.0 474.9,87.7 475.2,88.5 475.6,89.2 475.9,89.9 476.2,90.6 476.6,91.2 476.9,91.8 477.2,92.3 477.6,92.7 477.9,93.1 478.2,93.3 478.6,93.4 478.9,93.5 479.2,93.2 479.6,92.2 479.9,90.7 480.3,88.6 480.6,86.1 481.0,83.2 481.3,80.1 481.7,76.8 482.1,73.6 482.4,70.5 482.8,67.6 483.1,65.1 483.4,63.0 483.8,61.5 484.1,60.5 484.5,60.2 484.8,60.5 485.2,61.2 485.5,62.5 485.9,64.2 486.2,66.3 486.5,68.9 486.9,71.8 487.2,75.0 487.6,78.4 487.9,82.0 488.2,85.7 488.6,89.4 488.9,93.1 489.2,96.7 489.6,100.1 489.9,103.3 490.3,106.2 490.6,108.8 490.9,110.9 491.3,112.6 491.6,113.9 492.0,114.6 492.3,114.9 492.6,114.8 493.0,114.4 493.3,113.4 493.6,111.7 494.0,109.2 494.3,105.7 494.6,101.2 495.0,95.5 495.3,88.6 495.7,80.3 496.0,70.6 496.3,59.3 496.7,46.4 497.0,31.9 497.3,38.4 497.7,44.7 498.0,50.9 498.4,56.9 498.7,62.7 499.0,68.3 499.4,73.7 499.7,78.9 500.1,83.9 500.4,88.7 500.7,93.2 501.1,97.6 501.4,101.7 501.7,105.6 502.1,109.2 502.4,112.6 502.8,115.7 503.1,118.5 503.4,120.9 503.8,123.1 504.1,124.8 504.5,126.1 504.8,126.7 505.1,126.6 505.5,125.9 505.8,124.5 506.2,122.1 506.5,118.4 506.9,113.4 507.2,106.8 507.6,98.6 507.9,88.5 508.3,76.5 508.6,62.4 509.0,46.1 509.3,27.4 509.6,34.2 510.0,40.7 510.3,47.1 510.7,53.3 511.0,59.4 511.4,65.2 511.7,70.8 512.0,76.2 512.4,81.4 512.7,86.4 513.1,91.1 513.4,95.6 513.8,99.9 514.1,103.9 514.5,107.7 514.8,111.2 515.1,114.4 515.5,117.3 515.8,119.9 516.2,122.1 516.5,123.9 516.9,125.2 517.2,125.9 517.5,125.8 517.9,125.3 518.2,124.1 518.6,122.1 518.9,119.1 519.3,115.0 519.6,109.7 519.9,102.9 520.3,94.7 520.6,84.8 521.0,73.3 521.3,59.9 521.7,44.7 522.0,27.4 522.3,34.5 522.7,41.4 523.0,48.2 523.4,54.7 523.7,61.0 524.1,67.0 524.4,72.9 524.8,78.5 525.1,83.9 525.5,89.1 525.8,93.9 526.1,98.6 526.5,102.9 526.8,107.0 527.2,110.8 527.5,114.3 527.9,117.4 528.2,120.2 528.6,122.6 528.9,124.6 529.3,126.0 529.6,126.7 529.9,126.6 530.3,126.1 530.6,125.0 531.0,123.0 531.3,120.1 531.7,116.2 532.0,111.0 532.3,104.5 532.7,96.5 533.0,87.0 533.4,75.8 533.7,62.9 534.1,48.1 534.4,31.4 534.7,38.4 535.1,45.1 535.4,51.7 535.8,58.1 536.1,64.2 536.5,70.2 536.8,75.9 537.2,81.4 537.5,86.7 537.9,91.7 538.2,96.5 538.5,101.0 538.9,105.3 539.2,109.3 539.6,113.0 539.9,116.4 540.3,119.4 540.6,122.2 541.0,124.5 541.3,126.4 541.7,127.8 542.0,128.5 542.4,128.4 542.7,127.9 543.0,126.7 543.4,124.8 543.8,121.9 544.1,117.8 544.5,112.6 544.8,106.0 545.1,97.9 545.5,88.3 545.9,77.0 546.2,63.9 546.5,48.9 546.9,32.0 547.2,38.9 547.6,45.6 547.9,52.1 548.3,58.4 548.6,64.5 549.0,70.4 549.3,76.0 549.7,81.5 550.0,86.7 550.4,91.7 550.7,96.4 551.0,100.9 551.4,105.1 551.7,109.1 552.1,112.7 552.4,116.1 552.8,119.1 553.1,121.8 553.5,124.1 553.8,126.0 554.2,127.4 554.5,128.1 554.8,128.0 555.2,127.6 555.5,126.6 555.8,125.0 556.2,122.5 556.5,119.1 556.8,114.6 557.2,109.0 557.5,102.2 557.8,94.0 558.2,84.4 558.5,73.4 558.8,60.7 559.2,46.4 559.5,30.3 559.8,37.3 560.2,44.2 560.5,50.8 560.8,57.3 561.2,63.5 561.5,69.5 561.9,75.3 562.2,80.9 562.5,86.2 562.9,91.3 563.2,96.1 563.5,100.7 563.9,105.0 564.2,109.0 564.5,112.8 564.9,116.2 565.2,119.3 565.6,122.1 565.9,124.4 566.2,126.4 566.6,127.8 566.9,128.5 567.2,128.4 567.6,128.1 567.9,127.2 568.2,125.9 568.6,123.8 568.9,120.9 569.3,117.2 569.6,112.5 569.9,106.7 570.3,99.9 570.6,91.8 570.9,82.5 571.3,71.9 571.6,59.9 572.0,46.4 572.3,31.4 572.6,38.6 573.0,45.5 573.3,52.3 573.7,58.8 574.0,65.1 574.4,71.2 574.7,77.0 575.1,82.6 575.4,88.0 575.8,93.0 576.1,97.8 576.5,102.4 576.8,106.6 577.2,110.5 577.5,114.1 577.9,117.4 578.2,120.3 578.6,122.8 578.9,124.8 579.3,126.3 579.6,127.0 579.9,126.9 580.3,126.5 580.6,125.5 581.0,123.9 581.3,121.4 581.6,118.0 582.0,113.6 582.3,108.0 582.7,101.2 583.0,93.1 583.3,83.6 583.7,72.5 584.0,59.9 584.4,45.7 584.7,29.7 585.0,36.9 585.4,43.9 585.7,50.6 586.1,57.2 586.4,63.5 586.8,69.5 587.1,75.4 587.4,81.0 587.8,86.3 588.1,91.4 588.5,96.2 588.8,100.7 589.2,105.0 589.5,108.9 589.8,112.5 590.2,115.8 590.5,118.7 590.9,121.1 591.2,123.2 591.6,124.7 591.9,125.4 592.2,125.3 592.6,125.0 592.9,124.2 593.3,122.8 593.6,120.8 594.0,118.0 594.4,114.4 594.7,109.8 595.0,104.2 595.4,97.5 595.8,89.6 596.1,80.5 596.5,70.1 596.8,58.4 597.1,45.2 597.5,30.6 597.8,38.6 598.2,46.3 598.5,53.8 598.9,61.0 599.2,67.9 599.6,74.5 599.9,80.8 600.3,86.8 600.6,92.5 601.0,97.8 601.3,102.8 601.7,107.5 602.0,111.8 602.4,115.6 602.7,119.0 603.1,122.0 603.4,124.4 603.8,126.1 604.1,127.0 604.4,127.0 604.8,126.7 605.1,126.2 605.4,125.4 605.8,124.1 606.1,122.3 606.5,120.0 606.8,117.1 607.1,113.5 607.5,109.2 607.8,104.3 608.1,98.5 608.5,91.9 608.8,84.4 609.2,76.1 609.5,66.7 609.8,56.5 610.2,45.2 610.5,32.8 610.8,41.6 611.2,50.0 611.5,58.1 611.9,65.9 612.2,73.3 612.6,80.4 612.9,87.1 613.3,93.4 613.6,99.3 614.0,104.8 614.3,109.8 614.7,114.3 615.0,118.3 615.4,121.8 615.7,124.6 616.1,126.7 616.4,127.7 616.7,127.7 617.1,127.4 617.4,126.9 617.7,126.0 618.1,124.7 618.4,122.8 618.8,120.4 619.1,117.4 619.4,113.8 619.8,109.4 620.1,104.2 620.4,98.2 620.8,91.4 621.1,83.7 621.5,75.1 621.8,65.5 622.1,54.8 622.5,43.2 622.8,30.4 623.1,39.5 623.5,48.2 623.8,56.6 624.2,64.6 624.5,72.3 624.8,79.6 625.2,86.5 625.5,93.0 625.9,99.1 626.2,104.8 626.6,110.0 626.9,114.7 627.2,118.8 627.6,122.4 627.9,125.3 628.3,127.4 628.6,128.5 628.9,128.5 629.3,128.2 629.6,127.7 629.9,126.7 630.3,125.3 630.6,123.4 631.0,120.9 631.3,117.8 631.6,113.9 632.0,109.4 632.3,104.0 632.6,97.7 633.0,90.6 633.3,82.6 633.7,73.5 634.0,63.5 634.3,52.4 634.7,40.2 635.0,26.9 635.3,34.8 635.7,42.4 636.0,49.8 636.3,57.0 636.7,63.8 637.0,70.4 637.3,76.8 637.7,82.8 638.0,88.5 638.4,94.0 638.7,99.1 639.0,103.9 639.4,108.3 639.7,112.4 640.0,116.1 640.4,119.4 640.7,122.2 641.0,124.5 641.4,126.2 641.7,127.0 642.1,126.9 642.4,126.6 642.8,125.7 643.1,124.4 643.5,122.3 643.8,119.4 644.1,115.7 644.5,111.0 644.9,105.2 645.2,98.4 645.5,90.3 645.9,81.0 646.2,70.4 646.6,58.4 646.9,44.9 647.3,29.9 647.6,36.9 648.0,43.6 648.3,50.2 648.6,56.6 649.0,62.7 649.3,68.7 649.7,74.4 650.0,79.9 650.3,85.2 650.7,90.2 651.0,95.0 651.3,99.5 651.7,103.8 652.0,107.8 652.3,111.5 652.7,114.9 653.0,117.9 653.4,120.7 653.7,123.0 654.0,124.9 654.4,126.3 654.7,127.0 655.0,126.9 655.4,126.6 655.7,125.8 656.1,124.5 656.4,122.5 656.7,119.7 657.1,116.1 657.4,111.6 657.7,106.0 658.1,99.4 658.4,91.7 658.8,82.7 659.1,72.4 659.4,60.9 659.8,47.9 660.1,33.4 660.4,40.2 660.8,46.9 661.1,53.3 661.5,59.5 661.8,65.5 662.2,71.4 662.5,77.0 662.9,82.4 663.2,87.5 663.6,92.4 663.9,97.1 664.2,101.6 664.6,105.7 664.9,109.7 665.3,113.3 665.6,116.6 666.0,119.6 666.3,122.3 666.7,124.6 667.0,126.4 667.4,127.8 667.7,128.5 668.1,128.4 668.4,128.0 668.8,127.0 669.1,125.4 669.5,123.0 669.8,119.6 670.2,115.2 670.5,109.7 670.9,103.0 671.2,94.9 671.6,85.5 671.9,74.6 672.3,62.1 672.6,48.0 673.0,32.2 673.3,39.4 673.7,46.3 674.0,53.0 674.4,59.5 674.7,65.8 675.1,71.9 675.4,77.7 675.7,83.3 676.1,88.6 676.4,93.6 676.8,98.4 677.1,102.9 677.5,107.2 677.8,111.1 678.1,114.7 678.5,117.9 678.8,120.8 679.2,123.3 679.5,125.3 679.9,126.8 680.2,127.5 680.6,127.4 680.9,127.0 681.3,126.0 681.6,124.4 682.0,122.0 682.3,118.6 682.7,114.2 683.0,108.7 683.4,101.9 683.7,93.9 684.1,84.4 684.4,73.5 684.8,61.0 685.1,46.8 685.5,31.0" stroke="#222" stroke-width="1.3"/>
<path d="M425.0,86.3 464.0,86.3 464.3,86.3 464.7,86.3 465.0,86.2 465.4,86.0 465.7,85.9 466.1,85.7 466.4,85.4 466.7,85.2 467.1,84.9 467.4,84.7 467.8,84.4 468.1,84.1 468.5,83.9 468.8,83.6 469.1,83.4 469.5,83.2 469.8,83.0 470.2,82.9 470.5,82.8 470.9,82.7 471.2,82.7 471.5,82.8 471.9,82.9 472.2,83.1 472.5,83.5 472.9,83.9 473.2,84.4 473.5,85.0 473.9,85.6 474.2,86.3 474.5,87.0 474.9,87.7 475.2,88.5 475.6,89.2 475.9,89.9 476.2,90.6 476.6,91.2 476.9,91.8 477.2,92.3 477.6,92.7 477.9,93.1 478.2,93.3 478.6,93.4 478.9,93.5 479.2,93.2 479.6,92.2 479.9,90.7 480.3,88.6 480.6,86.1 481.0,83.2 481.3,80.1 481.7,76.8 482.1,73.6 482.4,70.5 482.8,67.6 483.1,65.1 483.4,63.0 483.8,61.5 484.1,60.5 484.5,60.2 484.8,60.5 485.2,61.2 485.5,62.5 485.9,64.2 486.2,66.3 486.5,68.9 486.9,71.8 487.2,75.0 487.6,78.4 487.9,82.0 488.2,85.7 488.6,89.4 488.9,93.1 489.2,96.7 489.6,100.1 489.9,103.3 490.3,106.2 490.6,108.8 490.9,110.9 491.3,112.6 491.6,113.9 492.0,114.6 492.3,114.9 492.6,114.8 493.0,114.4 493.3,113.4 493.6,111.7 494.0,109.2 494.3,105.7 494.6,101.2 495.0,95.5 495.3,88.6 495.7,80.3 496.0,70.6 496.3,59.3 496.7,46.4 497.0,31.9 497.3,38.4 497.7,44.7 498.0,50.8 498.4,56.7 498.7,62.5 499.0,68.1 499.4,73.4 499.7,78.6 500.1,83.6 500.4,88.4 500.7,92.9 501.1,97.2 501.4,101.3 501.7,105.2 502.1,108.8 502.4,112.1 502.8,115.2 503.1,118.0 503.4,120.5 503.8,122.6 504.1,124.3 504.5,125.6 504.8,126.2 505.1,126.1 505.5,125.4 505.8,124.0 506.2,121.6 506.5,118.0 506.9,113.0 507.2,106.4 507.6,98.2 507.9,88.2 508.3,76.3 508.6,62.2 509.0,46.0 509.3,27.4 509.6,34.1 510.0,40.7 510.3,47.0 510.7,53.2 511.0,59.2 511.4,65.0 511.7,70.6 512.0,75.9 512.4,81.1 512.7,86.1 513.1,90.8 513.4,95.3 513.8,99.5 514.1,103.6 514.5,107.3 514.8,110.8 515.1,114.0 515.5,116.9 515.8,119.4 516.2,121.6 516.5,123.4 516.9,124.8 517.2,125.4 517.5,125.3 517.9,124.8 518.2,123.6 518.6,121.6 518.9,118.7 519.3,114.6 519.6,109.2 519.9,102.5 520.3,94.3 520.6,84.5 521.0,73.1 521.3,59.8 521.7,44.6 522.0,27.4 522.3,34.5 522.7,41.4 523.0,48.1 523.4,54.5 523.7,60.8 524.1,66.8 524.4,72.7 524.8,78.3 525.1,83.6 525.5,88.7 525.8,93.6 526.1,98.2 526.5,102.6 526.8,106.6 527.2,110.4 527.5,113.8 527.9,117.0 528.2,119.7 528.6,122.1 528.9,124.1 529.3,125.5 529.6,126.2 529.9,126.1 530.3,125.6 530.6,124.5 531.0,122.6 531.3,119.7 531.7,115.7 532.0,110.6 532.3,104.1 532.7,96.1 533.0,86.7 533.4,75.6 533.7,62.7 534.1,48.0 534.4,31.4 534.7,38.3 535.1,45.1 535.4,51.6 535.8,57.9 536.1,64.1 536.5,70.0 536.8,75.7 537.2,81.1 537.5,86.4 537.9,91.4 538.2,96.1 538.5,100.6 538.9,104.9 539.2,108.9 539.6,112.5 539.9,115.9 540.3,119.0 540.6,121.7 541.0,124.0 541.3,125.9 541.7,127.3 542.0,128.0 542.4,127.9 542.7,127.4 543.0,126.3 543.4,124.3 543.8,121.4 544.1,117.4 544.5,112.2 544.8,105.6 545.1,97.6 545.5,88.0 545.9,76.7 546.2,63.7 546.5,48.8 546.9,32.0 547.2,38.9 547.6,45.5 547.9,52.0 548.3,58.3 548.6,64.3 549.0,70.2 549.3,75.8 549.7,81.2 550.0,86.4 550.4,91.4 550.7,96.1 551.0,100.5 551.4,104.7 551.7,108.7 552.1,112.3 552.4,115.6 552.8,118.7 553.1,121.4 553.5,123.7 553.8,125.5 554.2,126.9 554.5,127.6 554.8,127.5 555.2,127.1 555.5,126.1 555.8,124.5 556.2,122.0 556.5,118.6 556.8,114.2 557.2,108.6 557.5,101.8 557.8,93.7 558.2,84.2 558.5,73.1 558.8,60.5 559.2,46.3 559.5,30.3 559.8,37.3 560.2,44.1 560.5,50.7 560.8,57.1 561.2,63.3 561.5,69.3 561.9,75.1 562.2,80.6 562.5,85.9 562.9,91.0 563.2,95.8 563.5,100.3 563.9,104.6 564.2,108.6 564.5,112.4 564.9,115.8 565.2,118.9 565.6,121.6 565.9,124.0 566.2,125.9 566.6,127.3 566.9,128.0 567.2,127.9 567.6,127.6 567.9,126.8 568.2,125.4 568.6,123.3 568.9,120.5 569.3,116.7 569.6,112.1 569.9,106.4 570.3,99.5 570.6,91.5 570.9,82.3 571.3,71.7 571.6,59.7 572.0,46.3 572.3,31.4 572.6,38.5 573.0,45.5 573.3,52.2 573.7,58.7 574.0,65.0 574.4,71.0 574.7,76.8 575.1,82.3 575.4,87.7 575.8,92.7 576.1,97.5 576.5,102.0 576.8,106.2 577.2,110.1 577.5,113.7 577.9,116.9 578.2,119.8 578.6,122.3 578.9,124.3 579.3,125.8 579.6,126.5 579.9,126.4 580.3,126.0 580.6,125.0 581.0,123.4 581.3,120.9 581.6,117.6 582.0,113.2 582.3,107.6 582.7,100.9 583.0,92.8 583.3,83.3 583.7,72.3 584.0,59.8 584.4,45.6 584.7,29.7 585.0,36.8 585.4,43.8 585.7,50.5 586.1,57.0 586.4,63.3 586.8,69.3 587.1,75.1 587.4,80.7 587.8,86.0 588.1,91.1 588.5,95.9 588.8,100.4 589.2,104.6 589.5,108.5 589.8,112.1 590.2,115.3 590.5,118.2 590.9,120.7 591.2,122.7 591.6,124.2 591.9,124.9 592.2,124.8 592.6,124.5 592.9,123.7 593.3,122.3 593.6,120.3 594.0,117.5 594.4,113.9 594.7,109.3 595.0,103.8 595.4,97.1 595.8,89.3 596.1,80.3 596.5,69.9 596.8,58.3 597.1,45.2 597.5,30.6 597.8,38.5 598.2,46.2 598.5,53.7 598.9,60.8 599.2,67.7 599.6,74.2 599.9,80.5 600.3,86.5 600.6,92.2 601.0,97.5 601.3,102.5 601.7,107.1 602.0,111.3 602.4,115.2 602.7,118.6 603.1,121.5 603.4,123.9 603.8,125.6 604.1,126.5 604.4,126.5 604.8,126.2 605.1,125.7 605.4,124.9 605.8,123.6 606.1,121.8 606.5,119.5 606.8,116.6 607.1,113.1 607.5,108.8 607.8,103.9 608.1,98.1 608.5,91.6 608.8,84.1 609.2,75.8 609.5,66.6 609.8,56.3 610.2,45.1 610.5,32.8 610.8,41.5 611.2,49.9 611.5,58.0 611.9,65.7 612.2,73.1 612.6,80.2 612.9,86.8 613.3,93.1 613.6,98.9 614.0,104.4 614.3,109.4 614.7,113.9 615.0,117.9 615.4,121.3 615.7,124.1 616.1,126.2 616.4,127.2 616.7,127.2 617.1,126.9 617.4,126.4 617.7,125.5 618.1,124.2 618.4,122.4 618.8,120.0 619.1,117.0 619.4,113.3 619.8,109.0 620.1,103.8 620.4,97.9 620.8,91.1 621.1,83.4 621.5,74.8 621.8,65.3 622.1,54.7 622.5,43.1 622.8,30.4 623.1,39.4 623.5,48.1 623.8,56.5 624.2,64.5 624.5,72.1 624.8,79.4 625.2,86.2 625.5,92.7 625.9,98.8 626.2,104.4 626.6,109.6 626.9,114.2 627.2,118.4 627.6,121.9 627.9,124.8 628.3,127.0 628.6,128.0 628.9,128.0 629.3,127.7 629.6,127.2 629.9,126.2 630.3,124.9 630.6,123.0 631.0,120.5 631.3,117.3 631.6,113.5 632.0,108.9 632.3,103.6 632.6,97.4 633.0,90.3 633.3,82.3 633.7,73.3 634.0,63.3 634.3,52.3 634.7,40.2 635.0,26.9 635.3,34.7 635.7,42.4 636.0,49.7 636.3,56.8 636.7,63.6 637.0,70.2 637.3,76.5 637.7,82.5 638.0,88.2 638.4,93.6 638.7,98.7 639.0,103.5 639.4,107.9 639.7,112.0 640.0,115.7 640.4,118.9 640.7,121.7 641.0,124.0 641.4,125.7 641.7,126.5 642.1,126.4 642.4,126.1 642.8,125.3 643.1,123.9 643.5,121.8 643.8,119.0 644.1,115.2 644.5,110.6 644.9,104.9 645.2,98.0 645.5,90.0 645.9,80.8 646.2,70.2 646.6,58.2 646.9,44.8 647.3,29.9 647.6,36.8 648.0,43.6 648.3,50.1 648.6,56.4 649.0,62.6 649.3,68.5 649.7,74.2 650.0,79.6 650.3,84.9 650.7,89.9 651.0,94.6 651.3,99.1 651.7,103.4 652.0,107.4 652.3,111.0 652.7,114.4 653.0,117.5 653.4,120.2 653.7,122.5 654.0,124.4 654.4,125.8 654.7,126.5 655.0,126.4 655.4,126.1 655.7,125.3 656.1,124.0 656.4,122.0 656.7,119.2 657.1,115.6 657.4,111.1 657.7,105.6 658.1,99.1 658.4,91.4 658.8,82.4 659.1,72.2 659.4,60.7 659.8,47.8 660.1,33.4 660.4,40.2 660.8,46.8 661.1,53.2 661.5,59.4 661.8,65.4 662.2,71.2 662.5,76.7 662.9,82.1 663.2,87.2 663.6,92.1 663.9,96.8 664.2,101.2 664.6,105.4 664.9,109.3 665.3,112.9 665.6,116.2 666.0,119.2 666.3,121.8 666.7,124.1 667.0,126.0 667.4,127.3 667.7,128.0 668.1,127.9 668.4,127.5 668.8,126.5 669.1,124.9 669.5,122.5 669.8,119.2 670.2,114.8 670.5,109.3 670.9,102.6 671.2,94.6 671.6,85.2 671.9,74.4 672.3,62.0 672.6,47.9 673.0,32.2 673.3,39.3 673.7,46.2 674.0,52.9 674.4,59.4 674.7,65.6 675.1,71.7 675.4,77.4 675.7,83.0 676.1,88.3 676.4,93.3 676.8,98.1 677.1,102.6 677.5,106.8 677.8,110.7 678.1,114.2 678.5,117.5 678.8,120.3 679.2,122.8 679.5,124.8 679.9,126.3 680.2,127.0 680.6,126.9 680.9,126.5 681.3,125.5 681.6,123.9 682.0,121.5 682.3,118.1 682.7,113.8 683.0,108.3 683.4,101.6 683.7,93.5 684.1,84.1 684.4,73.3 684.8,60.8 685.1,46.8 685.5,31.0" transform="translate(0.7,0)" stroke="#c82222" stroke-width="1.2" stroke-dasharray="1.6,2.2"/>
<line x1="611.2" y1="25.9" x2="611.0" y2="29.6" stroke="#888" stroke-width="1.5"/>
</g>
<g clip-path="url(#clipc)" fill="none" stroke-linejoin="round">
<path d="M73.0,316.4 115.0,316.4 115.3,316.4 115.7,316.4 116.0,316.3 116.3,316.2 116.7,316.1 117.0,316.0 117.3,315.9 117.7,315.7 118.0,315.6 118.3,315.4 118.7,315.2 119.0,315.1 119.4,314.9 119.7,314.7 120.0,314.6 120.4,314.4 120.7,314.3 121.0,314.2 121.4,314.1 121.7,314.0 122.0,313.9 122.4,313.9 122.7,313.9 123.0,313.9 123.4,314.1 123.7,314.3 124.0,314.6 124.4,315.0 124.7,315.5 125.0,316.0 125.4,316.6 125.7,317.3 126.0,317.9 126.4,318.6 126.7,319.3 127.1,320.0 127.4,320.6 127.7,321.3 128.1,321.9 128.4,322.4 128.7,322.9 129.1,323.3 129.4,323.6 129.7,323.8 130.1,324.0 130.4,324.0 130.7,323.7 131.1,322.8 131.4,321.4 131.8,319.4 132.1,317.0 132.4,314.3 132.8,311.3 133.1,308.1 133.5,304.9 133.8,301.7 134.2,298.7 134.5,296.0 134.8,293.6 135.2,291.6 135.5,290.2 135.9,289.3 136.2,289.0 136.5,289.2 136.9,289.7 137.2,290.7 137.6,291.9 137.9,293.5 138.2,295.5 138.6,297.7 138.9,300.1 139.3,302.8 139.6,305.7 139.9,308.7 140.3,311.8 140.6,315.0 141.0,318.2 141.3,321.4 141.7,324.5 142.0,327.5 142.3,330.4 142.7,333.1 143.0,335.5 143.4,337.7 143.7,339.7 144.0,341.3 144.4,342.5 144.7,343.5 145.1,344.0 145.4,344.2 145.8,343.3 146.1,340.0 146.5,333.9 146.9,324.8 147.2,312.6 147.6,296.9 147.9,277.9 148.3,255.2 148.6,261.2 149.0,267.1 149.3,272.8 149.7,278.4 150.0,283.8 150.4,289.1 150.7,294.2 151.1,299.2 151.4,304.1 151.7,308.8 152.1,313.3 152.4,317.6 152.8,321.8 153.1,325.8 153.5,329.6 153.8,333.3 154.2,336.7 154.5,339.9 154.8,343.0 155.2,345.8 155.5,348.4 155.9,350.7 156.2,352.8 156.6,354.6 156.9,356.0 157.3,357.1 157.6,357.6 158.0,356.7 158.3,353.5 158.7,347.6 159.1,338.7 159.4,326.7 159.8,311.5 160.2,292.8 160.5,270.7 160.9,245.0 161.2,251.5 161.6,257.9 161.9,264.1 162.2,270.2 162.6,276.1 162.9,281.8 163.3,287.4 163.6,292.8 163.9,298.1 164.3,303.2 164.6,308.1 164.9,312.8 165.3,317.3 165.6,321.7 166.0,325.8 166.3,329.8 166.6,333.5 167.0,337.0 167.3,340.3 167.6,343.4 168.0,346.2 168.3,348.7 168.7,351.0 169.0,352.9 169.3,354.5 169.7,355.6 170.0,356.2 170.4,355.4 170.7,352.3 171.1,346.7 171.5,338.4 171.8,327.1 172.2,312.7 172.6,295.1 172.9,274.2 173.3,250.0 173.6,256.3 174.0,262.4 174.3,268.4 174.6,274.2 175.0,279.9 175.3,285.4 175.7,290.8 176.0,296.0 176.3,301.0 176.7,305.9 177.0,310.6 177.3,315.2 177.7,319.5 178.0,323.7 178.4,327.7 178.7,331.5 179.0,335.1 179.4,338.5 179.7,341.6 180.0,344.6 180.4,347.3 180.7,349.7 181.1,351.9 181.4,353.7 181.7,355.2 182.1,356.4 182.4,356.9 182.8,356.1 183.1,353.2 183.5,347.9 183.9,340.0 184.2,329.3 184.6,315.6 185.0,299.0 185.3,279.2 185.7,256.2 186.0,262.1 186.4,267.9 186.7,273.6 187.1,279.1 187.4,284.5 187.7,289.8 188.1,294.9 188.4,299.8 188.8,304.6 189.1,309.2 189.4,313.7 189.8,318.0 190.1,322.1 190.5,326.1 190.8,329.9 191.2,333.5 191.5,336.9 191.8,340.1 192.2,343.1 192.5,345.9 192.9,348.5 193.2,350.8 193.5,352.8 193.9,354.6 194.2,356.0 194.6,357.1 194.9,357.6 195.2,357.0 195.6,354.8 196.0,350.8 196.3,344.9 196.7,336.8 197.0,326.5 197.3,314.0 197.7,299.1 198.1,281.8 198.4,262.0 198.7,267.5 199.1,273.0 199.4,278.2 199.8,283.4 200.1,288.4 200.5,293.3 200.8,298.0 201.1,302.6 201.5,307.0 201.8,311.3 202.2,315.4 202.5,319.3 202.9,323.1 203.2,326.7 203.5,330.2 203.9,333.4 204.2,336.5 204.6,339.4 204.9,342.0 205.2,344.5 205.6,346.7 205.9,348.6 206.3,350.3 206.6,351.7 207.0,352.7 207.3,353.2 207.6,352.7 208.0,351.0 208.3,347.8 208.7,343.0 209.0,336.6 209.4,328.4 209.7,318.4 210.1,306.5 210.4,292.7 210.8,277.0 211.1,259.2 211.4,264.9 211.8,270.4 212.1,275.9 212.5,281.1 212.8,286.3 213.2,291.3 213.5,296.2 213.9,300.9 214.2,305.5 214.5,309.9 214.9,314.2 215.2,318.3 215.6,322.3 215.9,326.1 216.3,329.7 216.6,333.1 217.0,336.4 217.3,339.5 217.6,342.3 218.0,345.0 218.3,347.5 218.7,349.7 219.0,351.6 219.4,353.3 219.7,354.7 220.1,355.7 220.4,356.2 220.8,355.5 221.1,352.8 221.5,347.8 221.8,340.4 222.2,330.4 222.5,317.6 222.9,302.0 223.2,283.5 223.6,262.0 223.9,267.7 224.3,273.2 224.6,278.5 225.0,283.8 225.3,288.9 225.7,293.8 226.0,298.7 226.3,303.3 226.7,307.8 227.0,312.2 227.4,316.4 227.7,320.4 228.1,324.3 228.4,327.9 228.7,331.4 229.1,334.8 229.4,337.9 229.8,340.8 230.1,343.5 230.4,346.0 230.8,348.3 231.1,350.3 231.5,352.0 231.8,353.4 232.2,354.4 232.5,354.9 232.9,354.3 233.2,352.1 233.6,348.0 233.9,341.9 234.3,333.6 234.7,323.1 235.0,310.2 235.4,295.0 235.7,277.3 236.1,257.0 236.4,262.9 236.8,268.7 237.1,274.3 237.5,279.8 237.8,285.1 238.1,290.3 238.5,295.4 238.8,300.2 239.1,304.9 239.5,309.5 239.8,313.9 240.2,318.1 240.5,322.1 240.8,326.0 241.2,329.7 241.5,333.1 241.9,336.4 242.2,339.5 242.5,342.3 242.9,344.9 243.2,347.2 243.5,349.3 243.9,351.1 244.2,352.6 244.6,353.7 244.9,354.2 245.2,353.7 245.6,351.9 245.9,348.6 246.3,343.6 246.6,336.9 247.0,328.4 247.3,317.9 247.7,305.6 248.0,291.2 248.4,274.7 248.7,256.2 249.0,262.0 249.4,267.7 249.7,273.3 250.1,278.7 250.4,284.0 250.8,289.1 251.1,294.1 251.5,299.0 251.8,303.7 252.1,308.2 252.5,312.6 252.8,316.9 253.2,320.9 253.5,324.8 253.9,328.5 254.2,332.0 254.6,335.4 254.9,338.5 255.2,341.5 255.6,344.2 255.9,346.7 256.3,349.0 256.6,351.0 257.0,352.7 257.3,354.2 257.7,355.2 258.0,355.7 258.3,354.9 258.7,352.2 259.0,347.2 259.4,339.7 259.7,329.6 260.1,316.7 260.4,301.0 260.8,282.3 261.1,260.6 261.4,266.1 261.8,271.4 262.1,276.7 262.4,281.8 262.8,286.8 263.1,291.6 263.5,296.3 263.8,300.9 264.1,305.3 264.5,309.6 264.8,313.7 265.1,317.7 265.5,321.5 265.8,325.1 266.2,328.6 266.5,332.0 266.8,335.1 267.2,338.1 267.5,340.8 267.8,343.4 268.2,345.8 268.5,347.9 268.9,349.8 269.2,351.4 269.5,352.7 269.9,353.7 270.2,354.2 270.6,353.6 270.9,351.4 271.3,347.4 271.6,341.4 272.0,333.3 272.4,323.0 272.7,310.4 273.1,295.4 273.4,278.0 273.8,258.1 274.1,263.6 274.5,268.9 274.8,274.2 275.1,279.3 275.5,284.2 275.8,289.1 276.1,293.8 276.5,298.4 276.8,302.8 277.2,307.2 277.5,311.3 277.8,315.4 278.2,319.2 278.5,323.0 278.8,326.5 279.2,329.9 279.5,333.2 279.8,336.3 280.2,339.2 280.5,341.9 280.9,344.4 281.2,346.7 281.5,348.8 281.9,350.6 282.2,352.2 282.5,353.5 282.9,354.4 283.2,354.9 283.5,354.2 283.9,351.5 284.2,346.5 284.5,339.1 284.9,329.1 285.2,316.4 285.5,300.9 285.9,282.4 286.2,261.0 286.5,266.2 286.9,271.2 287.2,276.2 287.6,281.0 287.9,285.7 288.2,290.3 288.6,294.8 288.9,299.2 289.2,303.4 289.6,307.6 289.9,311.5 290.3,315.4 290.6,319.1 290.9,322.7 291.3,326.2 291.6,329.5 291.9,332.6 292.3,335.6 292.6,338.5 293.0,341.1 293.3,343.6 293.6,346.0 294.0,348.1 294.3,350.0 294.6,351.7 295.0,353.2 295.3,354.4 295.7,355.3 296.0,355.7 296.4,354.7 296.7,351.0 297.1,344.3 297.4,334.2 297.8,320.5 298.2,303.1 298.5,281.9 298.9,256.7 299.2,262.3 299.6,267.7 299.9,273.0 300.3,278.2 300.6,283.2 301.0,288.1 301.3,292.9 301.6,297.6 302.0,302.1 302.3,306.5 302.7,310.7 303.0,314.8 303.4,318.7 303.7,322.5 304.0,326.1 304.4,329.6 304.7,332.9 305.1,336.0 305.4,338.9 305.8,341.7 306.1,344.2 306.4,346.5 306.8,348.7 307.1,350.5 307.5,352.1 307.8,353.5 308.2,354.4 308.5,354.9 308.9,353.9 309.2,350.5 309.6,344.1 309.9,334.6 310.2,321.7 310.6,305.4 310.9,285.3 311.3,261.6 311.6,266.5 312.0,271.4 312.3,276.1 312.6,280.7 313.0,285.2 313.3,289.6 313.6,293.9 314.0,298.1 314.3,302.2 314.6,306.2 315.0,310.0 315.3,313.8 315.6,317.4 316.0,320.8 316.3,324.2 316.6,327.4 317.0,330.5 317.3,333.4 317.6,336.2 318.0,338.9 318.3,341.4 318.6,343.7 319.0,345.9 319.3,347.9 319.6,349.7 320.0,351.3 320.3,352.7 320.6,353.8 321.0,354.6 321.3,355.0 321.6,353.6 322.0,348.8 322.3,339.8 322.7,326.4 323.0,308.3 323.4,285.2 323.7,257.0 324.0,262.4 324.4,267.6 324.7,272.7 325.1,277.7 325.4,282.6 325.7,287.4 326.1,292.0 326.4,296.5 326.7,300.9 327.1,305.2 327.4,309.3 327.8,313.3 328.1,317.2 328.4,320.9 328.8,324.4 329.1,327.9 329.4,331.1 329.8,334.2 330.1,337.2 330.5,339.9 330.8,342.5 331.1,344.9 331.5,347.1 331.8,349.1 332.1,350.9 332.5,352.4 332.8,353.6 333.2,354.6 333.5,355.0 333.9,353.6 334.2,348.8 334.6,339.8 334.9,326.4 335.3,308.3 335.6,285.2 336.0,257.0" stroke="#808080" stroke-width="1.7" stroke-dasharray="6,4"/>
<path d="M73.0,316.4 115.0,316.4 115.3,316.4 115.7,316.4 116.0,316.3 116.3,316.2 116.7,316.1 117.0,316.0 117.3,315.9 117.7,315.7 118.0,315.6 118.3,315.4 118.7,315.2 119.0,315.1 119.4,314.9 119.7,314.7 120.0,314.6 120.4,314.4 120.7,314.3 121.0,314.2 121.4,314.1 121.7,314.0 122.0,313.9 122.4,313.9 122.7,313.9 123.0,313.9 123.4,314.1 123.7,314.3 124.0,314.6 124.4,315.0 124.7,315.5 125.0,316.0 125.4,316.6 125.7,317.3 126.0,317.9 126.4,318.6 126.7,319.3 127.1,320.0 127.4,320.6 127.7,321.3 128.1,321.9 128.4,322.4 128.7,322.9 129.1,323.3 129.4,323.6 129.7,323.8 130.1,324.0 130.4,324.0 130.7,323.7 131.1,322.8 131.4,321.4 131.8,319.4 132.1,317.0 132.4,314.3 132.8,311.3 133.1,308.1 133.5,304.9 133.8,301.7 134.2,298.7 134.5,296.0 134.8,293.6 135.2,291.6 135.5,290.2 135.9,289.3 136.2,289.0 136.5,289.2 136.9,289.7 137.2,290.7 137.6,291.9 137.9,293.5 138.2,295.5 138.6,297.7 138.9,300.1 139.3,302.8 139.6,305.7 139.9,308.7 140.3,311.8 140.6,315.0 141.0,318.2 141.3,321.4 141.7,324.5 142.0,327.5 142.3,330.4 142.7,333.1 143.0,335.5 143.4,337.7 143.7,339.7 144.0,341.3 144.4,342.5 144.7,343.5 145.1,344.0 145.4,344.2 145.8,343.3 146.1,340.1 146.5,334.3 146.9,325.6 147.2,313.8 147.6,298.7 147.9,280.4 148.3,258.6 148.6,264.1 149.0,269.5 149.3,274.8 149.7,280.0 150.0,285.0 150.4,289.9 150.7,294.6 151.1,299.2 151.4,303.7 151.7,308.0 152.1,312.1 152.4,316.1 152.8,320.0 153.1,323.7 153.5,327.2 153.8,330.6 154.2,333.7 154.5,336.7 154.8,339.5 155.2,342.1 155.5,344.5 155.9,346.6 156.2,348.6 156.6,350.2 156.9,351.5 157.3,352.5 157.6,353.0 158.0,352.2 158.3,349.3 158.7,344.0 159.1,336.1 159.4,325.4 159.8,311.9 160.2,295.2 160.5,275.5 160.9,252.6 161.2,258.4 161.6,264.0 161.9,269.5 162.2,274.9 162.6,280.1 162.9,285.2 163.3,290.1 163.6,294.9 163.9,299.6 164.3,304.1 164.6,308.4 164.9,312.6 165.3,316.6 165.6,320.4 166.0,324.1 166.3,327.6 166.6,330.9 167.0,334.0 167.3,336.9 167.6,339.7 168.0,342.1 168.3,344.4 168.7,346.4 169.0,348.1 169.3,349.5 169.7,350.5 170.0,351.0 170.4,350.2 170.7,347.5 171.1,342.5 171.5,335.1 171.8,325.0 172.2,312.1 172.6,296.5 172.9,277.8 173.3,256.2 173.6,261.8 174.0,267.3 174.3,272.7 174.6,277.9 175.0,283.0 175.3,288.0 175.7,292.8 176.0,297.5 176.3,302.0 176.7,306.4 177.0,310.6 177.3,314.7 177.7,318.6 178.0,322.4 178.4,326.0 178.7,329.4 179.0,332.6 179.4,335.6 179.7,338.5 180.0,341.1 180.4,343.5 180.7,345.7 181.1,347.7 181.4,349.3 181.7,350.7 182.1,351.7 182.4,352.2 182.8,351.5 183.1,349.0 183.5,344.3 183.9,337.3 184.2,327.9 184.6,315.8 185.0,301.2 185.3,283.7 185.7,263.5 186.0,268.8 186.4,273.9 186.7,278.9 187.1,283.8 187.4,288.6 187.7,293.2 188.1,297.7 188.4,302.1 188.8,306.3 189.1,310.4 189.4,314.4 189.8,318.2 190.1,321.8 190.5,325.3 190.8,328.7 191.2,331.9 191.5,334.9 191.8,337.7 192.2,340.4 192.5,342.9 192.9,345.1 193.2,347.2 193.5,349.0 193.9,350.5 194.2,351.8 194.6,352.7 194.9,353.2 195.2,352.7 195.6,350.7 196.0,347.2 196.3,341.9 196.7,334.7 197.0,325.5 197.3,314.3 197.7,301.1 198.1,285.6 198.4,268.0 198.7,273.1 199.1,278.1 199.4,282.9 199.8,287.7 200.1,292.3 200.5,296.7 200.8,301.1 201.1,305.3 201.5,309.3 201.8,313.3 202.2,317.0 202.5,320.7 202.9,324.2 203.2,327.5 203.5,330.6 203.9,333.6 204.2,336.5 204.6,339.1 204.9,341.5 205.2,343.8 205.6,345.8 205.9,347.6 206.3,349.2 206.6,350.4 207.0,351.3 207.3,351.8 207.6,351.4 208.0,349.8 208.3,346.9 208.7,342.6 209.0,336.7 209.4,329.3 209.7,320.2 210.1,309.5 210.4,296.9 210.8,282.6 211.1,266.5 211.4,271.5 211.8,276.3 212.1,281.0 212.5,285.6 212.8,290.1 213.2,294.5 213.5,298.7 213.9,302.8 214.2,306.8 214.5,310.7 214.9,314.4 215.2,318.0 215.6,321.5 215.9,324.8 216.3,327.9 216.6,330.9 217.0,333.8 217.3,336.4 217.6,338.9 218.0,341.3 218.3,343.4 218.7,345.3 219.0,347.0 219.4,348.5 219.7,349.7 220.1,350.6 220.4,351.0 220.8,350.3 221.1,348.0 221.5,343.6 221.8,337.1 222.2,328.2 222.5,317.0 222.9,303.3 223.2,286.9 223.6,268.0 223.9,273.1 224.3,278.0 224.6,282.8 225.0,287.5 225.3,292.1 225.7,296.5 226.0,300.8 226.3,305.0 226.7,309.0 227.0,312.9 227.4,316.6 227.7,320.2 228.1,323.7 228.4,327.0 228.7,330.1 229.1,333.1 229.4,335.9 229.8,338.5 230.1,340.9 230.4,343.1 230.8,345.2 231.1,346.9 231.5,348.5 231.8,349.7 232.2,350.6 232.5,351.1 232.9,350.5 233.2,348.5 233.6,344.9 233.9,339.3 234.3,331.9 234.7,322.4 235.0,310.8 235.4,297.1 235.7,281.1 236.1,262.8 236.4,268.1 236.8,273.3 237.1,278.4 237.5,283.3 237.8,288.1 238.1,292.8 238.5,297.3 238.8,301.7 239.1,306.0 239.5,310.1 239.8,314.0 240.2,317.8 240.5,321.4 240.8,324.9 241.2,328.2 241.5,331.3 241.9,334.3 242.2,337.0 242.5,339.6 242.9,341.9 243.2,344.0 243.5,345.9 243.9,347.5 244.2,348.9 244.6,349.8 244.9,350.3 245.2,349.9 245.6,348.2 245.9,345.3 246.3,340.8 246.6,334.9 247.0,327.2 247.3,317.9 247.7,306.9 248.0,294.0 248.4,279.4 248.7,262.8 249.0,268.1 249.4,273.2 249.7,278.2 250.1,283.1 250.4,287.9 250.8,292.5 251.1,297.0 251.5,301.4 251.8,305.7 252.1,309.8 252.5,313.7 252.8,317.5 253.2,321.2 253.5,324.7 253.9,328.1 254.2,331.3 254.6,334.3 254.9,337.1 255.2,339.8 255.6,342.2 255.9,344.5 256.3,346.6 256.6,348.4 257.0,349.9 257.3,351.2 257.7,352.1 258.0,352.6 258.3,351.9 258.7,349.5 259.0,344.9 259.4,338.1 259.7,329.0 260.1,317.3 260.4,303.1 260.8,286.2 261.1,266.5 261.4,271.5 261.8,276.3 262.1,281.0 262.4,285.6 262.8,290.1 263.1,294.5 263.5,298.8 263.8,302.9 264.1,306.9 264.5,310.7 264.8,314.5 265.1,318.1 265.5,321.5 265.8,324.8 266.2,328.0 266.5,331.0 266.8,333.8 267.2,336.5 267.5,339.0 267.8,341.3 268.2,343.5 268.5,345.4 268.9,347.1 269.2,348.6 269.5,349.8 269.9,350.7 270.2,351.1 270.6,350.6 270.9,348.6 271.3,345.0 271.6,339.5 272.0,332.2 272.4,322.9 272.7,311.5 273.1,298.0 273.4,282.3 273.8,264.3 274.1,269.2 274.5,274.0 274.8,278.7 275.1,283.3 275.5,287.7 275.8,292.1 276.1,296.3 276.5,300.4 276.8,304.4 277.2,308.3 277.5,312.0 277.8,315.6 278.2,319.1 278.5,322.5 278.8,325.7 279.2,328.7 279.5,331.6 279.8,334.4 280.2,337.0 280.5,339.4 280.9,341.7 281.2,343.7 281.5,345.6 281.9,347.2 282.2,348.7 282.5,349.8 282.9,350.7 283.2,351.1 283.5,350.4 283.9,348.0 284.2,343.4 284.5,336.6 284.9,327.5 285.2,315.8 285.5,301.6 285.9,284.7 286.2,265.0 286.5,269.8 286.9,274.5 287.2,279.0 287.6,283.5 287.9,287.9 288.2,292.1 288.6,296.3 288.9,300.3 289.2,304.3 289.6,308.1 289.9,311.8 290.3,315.3 290.6,318.8 290.9,322.1 291.3,325.3 291.6,328.3 291.9,331.3 292.3,334.0 292.6,336.7 293.0,339.1 293.3,341.4 293.6,343.6 294.0,345.6 294.3,347.3 294.6,348.9 295.0,350.3 295.3,351.4 295.7,352.2 296.0,352.6 296.4,351.7 296.7,348.3 297.1,342.1 297.4,332.9 297.8,320.4 298.2,304.5 298.5,285.1 298.9,262.1 299.2,267.2 299.6,272.1 299.9,277.0 300.3,281.7 300.6,286.3 301.0,290.8 301.3,295.2 301.6,299.5 302.0,303.6 302.3,307.6 302.7,311.5 303.0,315.2 303.4,318.8 303.7,322.3 304.0,325.6 304.4,328.8 304.7,331.8 305.1,334.6 305.4,337.3 305.8,339.8 306.1,342.1 306.4,344.3 306.8,346.2 307.1,347.9 307.5,349.4 307.8,350.6 308.2,351.5 308.5,351.9 308.9,351.0 309.2,347.8 309.6,341.9 309.9,333.1 310.2,321.2 310.6,306.1 310.9,287.6 311.3,265.7 311.6,270.3 312.0,274.9 312.3,279.3 312.6,283.6 313.0,287.9 313.3,292.0 313.6,296.1 314.0,300.0 314.3,303.8 314.6,307.6 315.0,311.2 315.3,314.7 315.6,318.1 316.0,321.3 316.3,324.5 316.6,327.5 317.0,330.4 317.3,333.2 317.6,335.8 318.0,338.3 318.3,340.6 318.6,342.8 319.0,344.9 319.3,346.7 319.6,348.4 320.0,349.9 320.3,351.2 320.6,352.2 321.0,353.0 321.3,353.4 321.6,352.1 322.0,347.6 322.3,339.4 322.7,326.9 323.0,310.2 323.4,288.9 323.7,262.8 324.0,267.7 324.4,272.4 324.7,277.1 325.1,281.7 325.4,286.1 325.7,290.4 326.1,294.7 326.4,298.8 326.7,302.8 327.1,306.7 327.4,310.4 327.8,314.0 328.1,317.6 328.4,320.9 328.8,324.2 329.1,327.3 329.4,330.3 329.8,333.1 330.1,335.8 330.5,338.3 330.8,340.6 331.1,342.8 331.5,344.8 331.8,346.6 332.1,348.3 332.5,349.6 332.8,350.8 333.2,351.6 333.5,352.0 333.9,350.8 334.2,346.3 334.6,338.2 334.9,326.0 335.3,309.5 335.6,288.6 336.0,263.0" transform="translate(0.4,0)" stroke="#e01818" stroke-width="1.2" stroke-dasharray="1.5,2.5"/>
<path d="M73.0,316.4 115.0,316.4 115.3,316.4 115.7,316.4 116.0,316.3 116.3,316.2 116.7,316.1 117.0,316.0 117.3,315.9 117.7,315.7 118.0,315.6 118.3,315.4 118.7,315.2 119.0,315.1 119.4,314.9 119.7,314.7 120.0,314.6 120.4,314.4 120.7,314.3 121.0,314.2 121.4,314.1 121.7,314.0 122.0,313.9 122.4,313.9 122.7,313.9 123.0,313.9 123.4,314.1 123.7,314.3 124.0,314.6 124.4,315.0 124.7,315.5 125.0,316.0 125.4,316.6 125.7,317.3 126.0,317.9 126.4,318.6 126.7,319.3 127.1,320.0 127.4,320.6 127.7,321.3 128.1,321.9 128.4,322.4 128.7,322.9 129.1,323.3 129.4,323.6 129.7,323.8 130.1,324.0 130.4,324.0 130.7,323.7 131.1,322.8 131.4,321.4 131.8,319.4 132.1,317.0 132.4,314.3 132.8,311.3 133.1,308.1 133.5,304.9 133.8,301.7 134.2,298.7 134.5,296.0 134.8,293.6 135.2,291.6 135.5,290.2 135.9,289.3 136.2,289.0 136.5,289.2 136.9,289.7 137.2,290.7 137.6,291.9 137.9,293.5 138.2,295.5 138.6,297.7 138.9,300.1 139.3,302.8 139.6,305.7 139.9,308.7 140.3,311.8 140.6,315.0 141.0,318.2 141.3,321.4 141.7,324.5 142.0,327.5 142.3,330.4 142.7,333.1 143.0,335.5 143.4,337.7 143.7,339.7 144.0,341.3 144.4,342.5 144.7,343.5 145.1,344.0 145.4,344.2 145.8,343.3 146.1,340.1 146.5,334.3 146.9,325.6 147.2,313.8 147.6,298.7 147.9,280.4 148.3,258.6 148.6,264.1 149.0,269.5 149.3,274.8 149.7,280.0 150.0,285.0 150.4,289.9 150.7,294.6 151.1,299.2 151.4,303.7 151.7,308.0 152.1,312.1 152.4,316.1 152.8,320.0 153.1,323.7 153.5,327.2 153.8,330.6 154.2,333.7 154.5,336.7 154.8,339.5 155.2,342.1 155.5,344.5 155.9,346.6 156.2,348.6 156.6,350.2 156.9,351.5 157.3,352.5 157.6,353.0 158.0,352.2 158.3,349.3 158.7,344.0 159.1,336.1 159.4,325.4 159.8,311.9 160.2,295.2 160.5,275.5 160.9,252.6 161.2,258.4 161.6,264.0 161.9,269.5 162.2,274.9 162.6,280.1 162.9,285.2 163.3,290.1 163.6,294.9 163.9,299.6 164.3,304.1 164.6,308.4 164.9,312.6 165.3,316.6 165.6,320.4 166.0,324.1 166.3,327.6 166.6,330.9 167.0,334.0 167.3,336.9 167.6,339.7 168.0,342.1 168.3,344.4 168.7,346.4 169.0,348.1 169.3,349.5 169.7,350.5 170.0,351.0 170.4,350.2 170.7,347.5 171.1,342.5 171.5,335.1 171.8,325.0 172.2,312.1 172.6,296.5 172.9,277.8 173.3,256.2 173.6,261.8 174.0,267.3 174.3,272.7 174.6,277.9 175.0,283.0 175.3,288.0 175.7,292.8 176.0,297.5 176.3,302.0 176.7,306.4 177.0,310.6 177.3,314.7 177.7,318.6 178.0,322.4 178.4,326.0 178.7,329.4 179.0,332.6 179.4,335.6 179.7,338.5 180.0,341.1 180.4,343.5 180.7,345.7 181.1,347.7 181.4,349.3 181.7,350.7 182.1,351.7 182.4,352.2 182.8,351.5 183.1,349.0 183.5,344.3 183.9,337.3 184.2,327.9 184.6,315.8 185.0,301.2 185.3,283.7 185.7,263.5 186.0,268.8 186.4,273.9 186.7,278.9 187.1,283.8 187.4,288.6 187.7,293.2 188.1,297.7 188.4,302.1 188.8,306.3 189.1,310.4 189.4,314.4 189.8,318.2 190.1,321.8 190.5,325.3 190.8,328.7 191.2,331.9 191.5,334.9 191.8,337.7 192.2,340.4 192.5,342.9 192.9,345.1 193.2,347.2 193.5,349.0 193.9,350.5 194.2,351.8 194.6,352.7 194.9,353.2 195.2,352.7 195.6,350.7 196.0,347.2 196.3,341.9 196.7,334.7 197.0,325.5 197.3,314.3 197.7,301.1 198.1,285.6 198.4,268.0 198.7,273.1 199.1,278.1 199.4,282.9 199.8,287.7 200.1,292.3 200.5,296.7 200.8,301.1 201.1,305.3 201.5,309.3 201.8,313.3 202.2,317.0 202.5,320.7 202.9,324.2 203.2,327.5 203.5,330.6 203.9,333.6 204.2,336.5 204.6,339.1 204.9,341.5 205.2,343.8 205.6,345.8 205.9,347.6 206.3,349.2 206.6,350.4 207.0,351.3 207.3,351.8 207.6,351.4 208.0,349.8 208.3,346.9 208.7,342.6 209.0,336.7 209.4,329.3 209.7,320.2 210.1,309.5 210.4,296.9 210.8,282.6 211.1,266.5 211.4,271.5 211.8,276.3 212.1,281.0 212.5,285.6 212.8,290.1 213.2,294.5 213.5,298.7 213.9,302.8 214.2,306.8 214.5,310.7 214.9,314.4 215.2,318.0 215.6,321.5 215.9,324.8 216.3,327.9 216.6,330.9 217.0,333.8 217.3,336.4 217.6,338.9 218.0,341.3 218.3,343.4 218.7,345.3 219.0,347.0 219.4,348.5 219.7,349.7 220.1,350.6 220.4,351.0 220.8,350.3 221.1,348.0 221.5,343.6 221.8,337.1 222.2,328.2 222.5,317.0 222.9,303.3 223.2,286.9 223.6,268.0 223.9,273.1 224.3,278.0 224.6,282.8 225.0,287.5 225.3,292.1 225.7,296.5 226.0,300.8 226.3,305.0 226.7,309.0 227.0,312.9 227.4,316.6 227.7,320.2 228.1,323.7 228.4,327.0 228.7,330.1 229.1,333.1 229.4,335.9 229.8,338.5 230.1,340.9 230.4,343.1 230.8,345.2 231.1,346.9 231.5,348.5 231.8,349.7 232.2,350.6 232.5,351.1 232.9,350.5 233.2,348.5 233.6,344.9 233.9,339.3 234.3,331.9 234.7,322.4 235.0,310.8 235.4,297.1 235.7,281.1 236.1,262.8 236.4,268.1 236.8,273.3 237.1,278.4 237.5,283.3 237.8,288.1 238.1,292.8 238.5,297.3 238.8,301.7 239.1,306.0 239.5,310.1 239.8,314.0 240.2,317.8 240.5,321.4 240.8,324.9 241.2,328.2 241.5,331.3 241.9,334.3 242.2,337.0 242.5,339.6 242.9,341.9 243.2,344.0 243.5,345.9 243.9,347.5 244.2,348.9 244.6,349.8 244.9,350.3 245.2,349.9 245.6,348.2 245.9,345.3 246.3,340.8 246.6,334.9 247.0,327.2 247.3,317.9 247.7,306.9 248.0,294.0 248.4,279.4 248.7,262.8 249.0,268.1 249.4,273.2 249.7,278.2 250.1,283.1 250.4,287.9 250.8,292.5 251.1,297.0 251.5,301.4 251.8,305.7 252.1,309.8 252.5,313.7 252.8,317.5 253.2,321.2 253.5,324.7 253.9,328.1 254.2,331.3 254.6,334.3 254.9,337.1 255.2,339.8 255.6,342.2 255.9,344.5 256.3,346.6 256.6,348.4 257.0,349.9 257.3,351.2 257.7,352.1 258.0,352.6 258.3,351.9 258.7,349.5 259.0,344.9 259.4,338.1 259.7,329.0 260.1,317.3 260.4,303.1 260.8,286.2 261.1,266.5 261.4,271.5 261.8,276.3 262.1,281.0 262.4,285.6 262.8,290.1 263.1,294.5 263.5,298.8 263.8,302.9 264.1,306.9 264.5,310.7 264.8,314.5 265.1,318.1 265.5,321.5 265.8,324.8 266.2,328.0 266.5,331.0 266.8,333.8 267.2,336.5 267.5,339.0 267.8,341.3 268.2,343.5 268.5,345.4 268.9,347.1 269.2,348.6 269.5,349.8 269.9,350.7 270.2,351.1 270.6,350.6 270.9,348.6 271.3,345.0 271.6,339.5 272.0,332.2 272.4,322.9 272.7,311.5 273.1,298.0 273.4,282.3 273.8,264.3 274.1,269.2 274.5,274.0 274.8,278.7 275.1,283.3 275.5,287.7 275.8,292.1 276.1,296.3 276.5,300.4 276.8,304.4 277.2,308.3 277.5,312.0 277.8,315.6 278.2,319.1 278.5,322.5 278.8,325.7 279.2,328.7 279.5,331.6 279.8,334.4 280.2,337.0 280.5,339.4 280.9,341.7 281.2,343.7 281.5,345.6 281.9,347.2 282.2,348.7 282.5,349.8 282.9,350.7 283.2,351.1 283.5,350.4 283.9,348.0 284.2,343.4 284.5,336.6 284.9,327.5 285.2,315.8 285.5,301.6 285.9,284.7 286.2,265.0 286.5,269.8 286.9,274.5 287.2,279.0 287.6,283.5 287.9,287.9 288.2,292.1 288.6,296.3 288.9,300.3 289.2,304.3 289.6,308.1 289.9,311.8 290.3,315.3 290.6,318.8 290.9,322.1 291.3,325.3 291.6,328.3 291.9,331.3 292.3,334.0 292.6,336.7 293.0,339.1 293.3,341.4 293.6,343.6 294.0,345.6 294.3,347.3 294.6,348.9 295.0,350.3 295.3,351.4 295.7,352.2 296.0,352.6 296.4,351.7 296.7,348.3 297.1,342.1 297.4,332.9 297.8,320.4 298.2,304.5 298.5,285.1 298.9,262.1 299.2,267.2 299.6,272.1 299.9,277.0 300.3,281.7 300.6,286.3 301.0,290.8 301.3,295.2 301.6,299.5 302.0,303.6 302.3,307.6 302.7,311.5 303.0,315.2 303.4,318.8 303.7,322.3 304.0,325.6 304.4,328.8 304.7,331.8 305.1,334.6 305.4,337.3 305.8,339.8 306.1,342.1 306.4,344.3 306.8,346.2 307.1,347.9 307.5,349.4 307.8,350.6 308.2,351.5 308.5,351.9 308.9,351.0 309.2,347.8 309.6,341.9 309.9,333.1 310.2,321.2 310.6,306.1 310.9,287.6 311.3,265.7 311.6,270.3 312.0,274.9 312.3,279.3 312.6,283.6 313.0,287.9 313.3,292.0 313.6,296.1 314.0,300.0 314.3,303.8 314.6,307.6 315.0,311.2 315.3,314.7 315.6,318.1 316.0,321.3 316.3,324.5 316.6,327.5 317.0,330.4 317.3,333.2 317.6,335.8 318.0,338.3 318.3,340.6 318.6,342.8 319.0,344.9 319.3,346.7 319.6,348.4 320.0,349.9 320.3,351.2 320.6,352.2 321.0,353.0 321.3,353.4 321.6,352.1 322.0,347.6 322.3,339.4 322.7,326.9 323.0,310.2 323.4,288.9 323.7,262.8 324.0,267.7 324.4,272.4 324.7,277.1 325.1,281.7 325.4,286.1 325.7,290.4 326.1,294.7 326.4,298.8 326.7,302.8 327.1,306.7 327.4,310.4 327.8,314.0 328.1,317.6 328.4,320.9 328.8,324.2 329.1,327.3 329.4,330.3 329.8,333.1 330.1,335.8 330.5,338.3 330.8,340.6 331.1,342.8 331.5,344.8 331.8,346.6 332.1,348.3 332.5,349.6 332.8,350.8 333.2,351.6 333.5,352.0 333.9,350.8 334.2,346.3 334.6,338.2 334.9,326.0 335.3,309.5 335.6,288.6 336.0,263.0" stroke="#151515" stroke-width="1.2"/>
<path d="M73.0,316.4 115.0,316.4 115.3,316.4 115.7,316.4 116.0,316.3 116.3,316.2 116.7,316.1 117.0,316.0 117.3,315.9 117.7,315.7 118.0,315.6 118.3,315.4 118.7,315.2 119.0,315.1 119.4,314.9 119.7,314.7 120.0,314.6 120.4,314.4 120.7,314.3 121.0,314.2 121.4,314.1 121.7,314.0 122.0,313.9 122.4,313.9 122.7,313.9 123.0,313.9 123.4,314.1 123.7,314.3 124.0,314.6 124.4,315.0 124.7,315.5 125.0,316.0 125.4,316.6 125.7,317.3 126.0,317.9 126.4,318.6 126.7,319.3 127.1,320.0 127.4,320.6 127.7,321.3 128.1,321.9 128.4,322.4 128.7,322.9 129.1,323.3 129.4,323.6 129.7,323.8 130.1,324.0 130.4,324.0 130.7,323.7 131.1,322.8 131.4,321.4 131.8,319.4 132.1,317.0 132.4,314.3 132.8,311.3 133.1,308.1 133.5,304.9 133.8,301.7 134.2,298.7 134.5,296.0 134.8,293.6 135.2,291.6 135.5,290.2 135.9,289.3 136.2,289.0 136.5,289.2 136.9,289.7 137.2,290.7 137.6,291.9 137.9,293.5 138.2,295.5 138.6,297.7 138.9,300.1 139.3,302.8 139.6,305.7 139.9,308.7 140.3,311.8 140.6,315.0 141.0,318.2 141.3,321.4 141.7,324.5 142.0,327.5 142.3,330.4 142.7,333.1 143.0,335.5 143.4,337.7 143.7,339.7 144.0,341.3 144.4,342.5 144.7,343.5 145.1,344.0 145.4,344.2 145.8,343.3 146.1,340.0 146.5,333.9 146.9,324.8 147.2,312.6 147.6,296.9 147.9,277.9 148.3,255.2 148.6,261.2 149.0,267.1 149.3,272.8 149.7,278.4 150.0,283.8 150.4,289.1 150.7,294.2 151.1,299.2 151.4,304.1 151.7,308.8 152.1,313.3 152.4,317.6 152.8,321.8 153.1,325.8 153.5,329.6 153.8,333.3 154.2,336.7 154.5,339.9 154.8,343.0 155.2,345.8 155.5,348.4 155.9,350.7 156.2,352.8 156.6,354.6 156.9,356.0 157.3,357.1 157.6,357.6 158.0,356.7 158.3,353.5 158.7,347.6 159.1,338.7 159.4,326.7 159.8,311.5 160.2,292.8 160.5,270.7 160.9,245.0 161.2,251.5 161.6,257.9 161.9,264.1 162.2,270.2 162.6,276.1 162.9,281.8 163.3,287.4 163.6,292.8 163.9,298.1 164.3,303.2 164.6,308.1 164.9,312.8 165.3,317.3 165.6,321.7 166.0,325.8 166.3,329.8 166.6,333.5 167.0,337.0 167.3,340.3 167.6,343.4 168.0,346.2 168.3,348.7 168.7,351.0 169.0,352.9 169.3,354.5 169.7,355.6 170.0,356.2 170.4,355.4 170.7,352.3 171.1,346.7 171.5,338.4 171.8,327.1 172.2,312.7 172.6,295.1 172.9,274.2 173.3,250.0 173.6,256.3 174.0,262.4 174.3,268.4 174.6,274.2 175.0,279.9 175.3,285.4 175.7,290.8 176.0,296.0 176.3,301.0 176.7,305.9 177.0,310.6 177.3,315.2 177.7,319.5 178.0,323.7 178.4,327.7 178.7,331.5 179.0,335.1 179.4,338.5 179.7,341.6 180.0,344.6 180.4,347.3 180.7,349.7 181.1,351.9 181.4,353.7 181.7,355.2 182.1,356.4 182.4,356.9 182.8,356.1 183.1,353.2 183.5,347.9 183.9,340.0 184.2,329.3 184.6,315.6 185.0,299.0 185.3,279.2 185.7,256.2 186.0,262.1 186.4,267.9 186.7,273.6 187.1,279.1 187.4,284.5 187.7,289.8 188.1,294.9 188.4,299.8 188.8,304.6 189.1,309.2 189.4,313.7 189.8,318.0 190.1,322.1 190.5,326.1 190.8,329.9 191.2,333.5 191.5,336.9 191.8,340.1 192.2,343.1 192.5,345.9 192.9,348.5 193.2,350.8 193.5,352.8 193.9,354.6 194.2,356.0 194.6,357.1 194.9,357.6 195.2,357.0 195.6,354.8 196.0,350.8 196.3,344.9 196.7,336.8 197.0,326.5 197.3,314.0 197.7,299.1 198.1,281.8 198.4,262.0 198.7,267.5 199.1,273.0 199.4,278.2 199.8,283.4 200.1,288.4 200.5,293.3 200.8,298.0 201.1,302.6 201.5,307.0 201.8,311.3 202.2,315.4 202.5,319.3 202.9,323.1 203.2,326.7 203.5,330.2 203.9,333.4 204.2,336.5 204.6,339.4 204.9,342.0 205.2,344.5 205.6,346.7 205.9,348.6 206.3,350.3 206.6,351.7 207.0,352.7 207.3,353.2 207.6,352.7 208.0,351.0 208.3,347.8 208.7,343.0 209.0,336.6 209.4,328.4 209.7,318.4 210.1,306.5 210.4,292.7 210.8,277.0 211.1,259.2 211.4,264.9 211.8,270.4 212.1,275.9 212.5,281.1 212.8,286.3 213.2,291.3 213.5,296.2 213.9,300.9 214.2,305.5 214.5,309.9 214.9,314.2 215.2,318.3 215.6,322.3 215.9,326.1 216.3,329.7 216.6,333.1 217.0,336.4 217.3,339.5 217.6,342.3 218.0,345.0 218.3,347.5 218.7,349.7 219.0,351.6 219.4,353.3 219.7,354.7 220.1,355.7 220.4,356.2 220.8,355.5 221.1,352.8 221.5,347.8 221.8,340.4 222.2,330.4 222.5,317.6 222.9,302.0 223.2,283.5 223.6,262.0 223.9,267.7 224.3,273.2 224.6,278.5 225.0,283.8 225.3,288.9 225.7,293.8 226.0,298.7 226.3,303.3 226.7,307.8 227.0,312.2 227.4,316.4 227.7,320.4 228.1,324.3 228.4,327.9 228.7,331.4 229.1,334.8 229.4,337.9 229.8,340.8 230.1,343.5 230.4,346.0 230.8,348.3 231.1,350.3 231.5,352.0 231.8,353.4 232.2,354.4 232.5,354.9 232.9,354.3 233.2,352.1 233.6,348.0 233.9,341.9 234.3,333.6 234.7,323.1 235.0,310.2 235.4,295.0 235.7,277.3 236.1,257.0 236.4,262.9 236.8,268.7 237.1,274.3 237.5,279.8 237.8,285.1 238.1,290.3 238.5,295.4 238.8,300.2 239.1,304.9 239.5,309.5 239.8,313.9 240.2,318.1 240.5,322.1 240.8,326.0 241.2,329.7 241.5,333.1 241.9,336.4 242.2,339.5 242.5,342.3 242.9,344.9 243.2,347.2 243.5,349.3 243.9,351.1 244.2,352.6 244.6,353.7 244.9,354.2 245.2,353.7 245.6,351.9 245.9,348.6 246.3,343.6 246.6,336.9 247.0,328.4 247.3,317.9 247.7,305.6 248.0,291.2 248.4,274.7 248.7,256.2 249.0,262.0 249.4,267.7 249.7,273.3 250.1,278.7 250.4,284.0 250.8,289.1 251.1,294.1 251.5,299.0 251.8,303.7 252.1,308.2 252.5,312.6 252.8,316.9 253.2,320.9 253.5,324.8 253.9,328.5 254.2,332.0 254.6,335.4 254.9,338.5 255.2,341.5 255.6,344.2 255.9,346.7 256.3,349.0 256.6,351.0 257.0,352.7 257.3,354.2 257.7,355.2 258.0,355.7 258.3,354.9 258.7,352.2 259.0,347.2 259.4,339.7 259.7,329.6 260.1,316.7 260.4,301.0 260.8,282.3 261.1,260.6 261.4,266.1 261.8,271.4 262.1,276.7 262.4,281.8 262.8,286.8 263.1,291.6 263.5,296.3 263.8,300.9 264.1,305.3 264.5,309.6 264.8,313.7 265.1,317.7 265.5,321.5 265.8,325.1 266.2,328.6 266.5,332.0 266.8,335.1 267.2,338.1 267.5,340.8 267.8,343.4 268.2,345.8 268.5,347.9 268.9,349.8 269.2,351.4 269.5,352.7 269.9,353.7 270.2,354.2 270.6,353.6 270.9,351.4 271.3,347.4 271.6,341.4 272.0,333.3 272.4,323.0 272.7,310.4 273.1,295.4 273.4,278.0 273.8,258.1 274.1,263.6 274.5,268.9 274.8,274.2 275.1,279.3 275.5,284.2 275.8,289.1 276.1,293.8 276.5,298.4 276.8,302.8 277.2,307.2 277.5,311.3 277.8,315.4 278.2,319.2 278.5,323.0 278.8,326.5 279.2,329.9 279.5,333.2 279.8,336.3 280.2,339.2 280.5,341.9 280.9,344.4 281.2,346.7 281.5,348.8 281.9,350.6 282.2,352.2 282.5,353.5 282.9,354.4 283.2,354.9 283.5,354.2 283.9,351.5 284.2,346.5 284.5,339.1 284.9,329.1 285.2,316.4 285.5,300.9 285.9,282.4 286.2,261.0 286.5,266.2 286.9,271.2 287.2,276.2 287.6,281.0 287.9,285.7 288.2,290.3 288.6,294.8 288.9,299.2 289.2,303.4 289.6,307.6 289.9,311.5 290.3,315.4 290.6,319.1 290.9,322.7 291.3,326.2 291.6,329.5 291.9,332.6 292.3,335.6 292.6,338.5 293.0,341.1 293.3,343.6 293.6,346.0 294.0,348.1 294.3,350.0 294.6,351.7 295.0,353.2 295.3,354.4 295.7,355.3 296.0,355.7 296.4,354.7 296.7,351.0 297.1,344.3 297.4,334.2 297.8,320.5 298.2,303.1 298.5,281.9 298.9,256.7 299.2,262.3 299.6,267.7 299.9,273.0 300.3,278.2 300.6,283.2 301.0,288.1 301.3,292.9 301.6,297.6 302.0,302.1 302.3,306.5 302.7,310.7 303.0,314.8 303.4,318.7 303.7,322.5 304.0,326.1 304.4,329.6 304.7,332.9 305.1,336.0 305.4,338.9 305.8,341.7 306.1,344.2 306.4,346.5 306.8,348.7 307.1,350.5 307.5,352.1 307.8,353.5 308.2,354.4 308.5,354.9 308.9,353.9 309.2,350.5 309.6,344.1 309.9,334.6 310.2,321.7 310.6,305.4 310.9,285.3 311.3,261.6 311.6,266.5 312.0,271.4 312.3,276.1 312.6,280.7 313.0,285.2 313.3,289.6 313.6,293.9 314.0,298.1 314.3,302.2 314.6,306.2 315.0,310.0 315.3,313.8 315.6,317.4 316.0,320.8 316.3,324.2 316.6,327.4 317.0,330.5 317.3,333.4 317.6,336.2 318.0,338.9 318.3,341.4 318.6,343.7 319.0,345.9 319.3,347.9 319.6,349.7 320.0,351.3 320.3,352.7 320.6,353.8 321.0,354.6 321.3,355.0 321.6,353.6 322.0,348.8 322.3,339.8 322.7,326.4 323.0,308.3 323.4,285.2 323.7,257.0 324.0,262.4 324.4,267.6 324.7,272.7 325.1,277.7 325.4,282.6 325.7,287.4 326.1,292.0 326.4,296.5 326.7,300.9 327.1,305.2 327.4,309.3 327.8,313.3 328.1,317.2 328.4,320.9 328.8,324.4 329.1,327.9 329.4,331.1 329.8,334.2 330.1,337.2 330.5,339.9 330.8,342.5 331.1,344.9 331.5,347.1 331.8,349.1 332.1,350.9 332.5,352.4 332.8,353.6 333.2,354.6 333.5,355.0 333.9,353.6 334.2,348.8 334.6,339.8 334.9,326.4 335.3,308.3 335.6,285.2 336.0,257.0" stroke="#808080" stroke-width="0.8" stroke-dasharray="6,4"/>
</g>
<g clip-path="url(#clipd)" fill="none" stroke-linejoin="round">
<path d="M425.0,316.4 425.2,316.4 425.5,316.4 425.8,316.4 426.0,316.4 426.2,316.4 426.5,316.4 426.8,316.4 427.0,316.4 427.2,316.4 427.5,316.4 427.8,316.4 428.0,316.4 428.2,316.4 428.5,316.4 428.8,316.4 429.0,316.4 429.2,316.4 429.5,316.4 429.8,316.4 430.0,316.4 430.2,316.4 430.5,316.4 430.8,316.4 431.0,316.4 431.2,316.4 431.5,316.4 431.8,316.4 432.0,316.4 432.2,316.4 432.5,316.4 432.8,316.4 433.0,316.4 433.2,316.4 433.5,316.4 433.8,316.4 434.0,316.4 434.2,316.4 434.5,316.4 434.8,316.4 435.0,316.4 435.2,316.4 435.5,316.4 435.8,316.4 436.0,316.4 436.2,316.4 436.5,316.4 436.8,316.4 437.0,316.4 437.2,316.4 437.5,316.4 437.8,316.4 438.0,316.4 438.2,316.4 438.5,316.4 438.8,316.4 439.0,316.4 439.2,316.4 439.5,316.4 439.8,316.4 440.0,316.4 440.2,316.4 440.5,316.4 440.8,316.4 441.0,316.4 441.2,316.4 441.5,316.4 441.8,316.4 442.0,316.4 442.2,316.4 442.5,316.4 442.8,316.4 443.0,316.4 443.2,316.4 443.5,316.4 443.8,316.4 444.0,316.4 444.2,316.4 444.5,316.4 444.8,316.4 445.0,316.4 445.2,316.4 445.5,316.4 445.8,316.4 446.0,316.4 446.2,316.4 446.5,316.4 446.8,316.4 447.0,316.4 447.2,316.4 447.5,316.4 447.8,316.4 448.0,316.4 448.2,316.4 448.5,316.4 448.8,316.4 449.0,316.4 449.2,316.4 449.5,316.4 449.8,316.4 450.0,316.4 450.2,316.4 450.5,316.4 450.8,316.4 451.0,316.4 451.2,316.4 451.5,316.4 451.8,316.4 452.0,316.4 452.2,316.4 452.5,316.4 452.8,316.4 453.0,316.4 453.2,316.4 453.5,316.4 453.8,316.4 454.0,316.4 454.2,316.4 454.5,316.4 454.8,316.4 455.0,316.4 455.2,316.4 455.5,316.4 455.8,316.4 456.0,316.4 456.2,316.4 456.5,316.4 456.8,316.4 457.0,316.4 457.2,316.4 457.5,316.4 457.8,316.4 458.0,316.4 458.2,316.4 458.5,316.4 458.8,316.4 459.0,316.4 459.2,316.4 459.5,316.4 459.8,316.4 460.0,316.4 460.2,316.4 460.5,316.4 460.8,316.4 461.0,316.4 461.2,316.4 461.5,316.4 461.8,316.4 462.0,316.4 462.2,316.4 462.5,316.4 462.8,316.4 463.0,316.4 463.2,316.4 463.5,316.4 463.8,316.4 464.0,316.4 464.2,316.4 464.5,316.4 464.8,316.4 465.0,316.4 465.2,316.4 465.5,316.4 465.8,316.4 466.0,316.4 466.2,316.4 466.5,316.4 466.8,316.4 467.0,316.4 467.2,316.4 467.5,316.4 467.8,316.4 468.0,316.4 468.2,316.4 468.5,316.4 468.8,316.4 469.0,316.4 469.2,316.4 469.5,316.4 469.8,316.4 470.0,316.4 470.2,316.4 470.5,316.4 470.8,316.4 471.0,316.3 471.2,316.3 471.5,316.3 471.8,316.2 472.0,316.2 472.2,316.2 472.5,316.1 472.8,316.1 473.0,316.0 473.2,316.0 473.5,315.9 473.8,315.9 474.0,315.8 474.2,315.7 474.5,315.7 474.8,315.6 475.0,315.5 475.2,315.3 475.5,315.2 475.8,315.1 476.0,314.9 476.2,314.8 476.5,314.6 476.8,314.5 477.0,314.4 477.2,314.2 477.5,314.1 477.8,314.0 478.0,313.9 478.2,313.8 478.5,313.7 478.8,313.7 479.0,313.6 479.2,313.6 479.5,313.6 479.8,313.7 480.0,313.7 480.2,313.8 480.5,314.0 480.8,314.1 481.0,314.3 481.2,314.5 481.5,314.7 481.8,314.9 482.0,315.1 482.2,315.3 482.5,315.6 482.8,315.8 483.0,316.0 483.2,316.3 483.5,316.5 483.8,316.8 484.0,317.1 484.2,317.4 484.5,317.8 484.8,318.2 485.0,318.6 485.2,319.0 485.5,319.4 485.8,319.7 486.0,320.0 486.2,320.3 486.5,320.5 486.8,320.7 487.0,320.7 487.2,320.5 487.5,320.1 487.8,319.5 488.0,318.6 488.2,317.6 488.5,316.5 488.8,315.2 489.0,314.0 489.2,312.4 489.5,310.2 489.8,307.6 490.0,304.9 490.2,302.2 490.5,299.8 490.8,297.7 491.0,295.5 491.2,293.2 491.5,291.1 491.8,289.5 492.0,288.7 492.2,288.8 492.5,289.9 492.8,291.7 493.0,293.9 493.2,296.2 493.5,298.3 493.8,300.0 494.0,301.7 494.2,303.3 494.5,304.9 494.8,306.5 495.0,307.9 495.2,309.3 495.5,310.5 495.8,311.7 496.0,312.9 496.2,314.0 496.5,315.1 496.8,316.1 497.0,317.0 497.2,317.9 497.5,318.8 497.8,319.6 498.0,320.4 498.2,321.2 498.5,321.9 498.8,322.6 499.0,323.3 499.2,323.9 499.5,324.5 499.8,325.1 500.0,325.7 500.2,326.4 500.5,327.0 500.8,327.5 501.0,328.0 501.2,328.3 501.5,328.5 501.8,328.4 502.0,328.1 502.2,327.6 502.5,326.0 502.8,321.7 503.0,315.5 503.2,308.5 503.5,301.6 503.8,295.7 504.0,291.8 504.2,290.8 504.5,293.0 504.8,297.2 505.0,301.5 505.2,305.0 505.5,308.5 505.8,311.6 506.0,313.9 506.2,316.0 506.5,317.5 506.8,317.9 507.0,316.4 507.2,313.7 507.5,311.3 507.8,310.5 508.0,311.0 508.2,311.9 508.5,313.1 508.8,314.3 509.0,315.5 509.2,316.7 509.5,318.1 509.8,319.6 510.0,321.0 510.2,322.3 510.5,323.5 510.8,324.7 511.0,325.9 511.2,327.0 511.5,327.8 511.8,328.1 512.0,328.3 512.2,328.5 512.5,328.6 512.8,328.7 513.0,328.7 513.2,328.8 513.5,328.8 513.8,328.7 514.0,326.9 514.2,322.8 514.5,317.1 514.8,310.5 515.0,303.5 515.2,296.7 515.5,290.8 515.8,286.4 516.0,284.0 516.2,284.9 516.5,290.3 516.8,297.3 517.0,303.0 517.2,306.6 517.5,309.8 517.8,312.5 518.0,315.1 518.2,317.7 518.5,319.3 518.8,319.0 519.0,316.3 519.2,313.0 519.5,310.8 519.8,310.6 520.0,311.3 520.2,312.3 520.5,313.6 520.8,314.8 521.0,315.9 521.2,317.3 521.5,318.7 521.8,320.1 522.0,321.5 522.2,322.8 522.5,324.0 522.8,325.2 523.0,326.4 523.2,327.4 523.5,328.1 523.8,328.3 524.0,328.5 524.2,328.6 524.5,328.6 524.8,328.7 525.0,328.8 525.2,328.8 525.5,328.8 525.8,328.9 526.0,328.9 526.2,328.8 526.5,326.8 526.8,322.3 527.0,316.2 527.2,309.2 527.5,302.1 527.8,295.6 528.0,290.4 528.2,287.3 528.5,287.1 528.8,291.0 529.0,296.8 529.2,302.2 529.5,305.8 529.8,309.0 530.0,311.9 530.2,314.8 530.5,318.1 530.8,320.5 531.0,320.7 531.2,318.0 531.5,314.2 531.8,311.1 532.0,310.6 532.2,311.1 532.5,312.1 532.8,313.3 533.0,314.5 533.2,315.7 533.5,317.1 533.8,318.6 534.0,320.0 534.2,321.4 534.5,322.6 534.8,323.5 535.0,324.4 535.2,325.2 535.5,325.9 535.8,326.4 536.0,326.6 536.2,326.7 536.5,326.8 536.8,326.9 537.0,326.9 537.2,327.0 537.5,327.0 537.8,327.1 538.0,327.1 538.2,327.2 538.5,327.2 538.8,327.2 539.0,327.2 539.2,326.2 539.5,323.4 539.8,319.2 540.0,314.2 540.2,308.6 540.5,302.9 540.8,297.6 541.0,293.0 541.2,289.7 541.5,287.9 541.8,288.5 542.0,292.7 542.2,298.2 542.5,303.0 542.8,306.6 543.0,309.9 543.2,312.6 543.5,314.7 543.8,316.7 544.0,317.9 544.2,317.5 544.5,315.4 544.8,312.6 545.0,310.7 545.2,310.6 545.5,311.3 545.8,312.3 546.0,313.6 546.2,314.8 546.5,316.0 546.8,317.4 547.0,318.9 547.2,320.4 547.5,321.8 547.8,322.8 548.0,323.6 548.2,324.4 548.5,325.0 548.8,325.5 549.0,325.9 549.2,326.1 549.5,326.3 549.8,326.4 550.0,326.4 550.2,326.5 550.5,326.6 550.8,326.6 551.0,326.7 551.2,326.7 551.5,326.7 551.8,326.1 552.0,323.0 552.2,317.8 552.5,311.3 552.8,304.2 553.0,297.2 553.2,291.1 553.5,286.6 553.8,284.6 554.0,286.3 554.2,292.0 554.5,298.8 554.8,303.8 555.0,307.3 555.2,310.3 555.5,313.0 555.8,315.7 556.0,318.1 556.2,319.5 556.5,318.6 556.8,315.7 557.0,312.4 557.2,310.6 557.5,310.7 557.8,311.5 558.0,312.6 558.2,313.8 558.5,315.0 558.8,316.2 559.0,317.5 559.2,319.0 559.5,320.4 559.8,321.8 560.0,323.0 560.2,324.2 560.5,325.5 560.8,326.7 561.0,327.6 561.2,328.2 561.5,328.3 561.8,328.4 562.0,328.5 562.2,328.6 562.5,328.6 562.8,328.7 563.0,328.7 563.2,328.8 563.5,328.8 563.8,328.8 564.0,328.9 564.2,328.9 564.5,328.9 564.8,328.9 565.0,327.7 565.2,323.3 565.5,316.9 565.8,309.3 566.0,301.7 566.2,295.3 566.5,290.9 566.8,289.8 567.0,292.2 567.2,296.8 567.5,301.5 567.8,305.0 568.0,308.2 568.2,311.3 568.5,314.2 568.8,317.5 569.0,320.2 569.2,320.9 569.5,318.7 569.8,315.0 570.0,311.6 570.2,310.5 570.5,311.0 570.8,311.9 571.0,313.1 571.2,314.3 571.5,315.5 571.8,316.8 572.0,318.2 572.2,319.8 572.5,321.2 572.8,322.4 573.0,323.4 573.2,324.2 573.5,325.1 573.8,325.8 574.0,326.3 574.2,326.5 574.5,326.7 574.8,326.8 575.0,326.9 575.2,327.0 575.5,327.0 575.8,327.1 576.0,327.1 576.2,327.2 576.5,327.2 576.8,327.2 577.0,326.8 577.2,325.1 577.5,322.5 577.8,319.0 578.0,315.0 578.2,310.6 578.5,306.1 578.8,301.7 579.0,297.6 579.2,294.1 579.5,291.2 579.8,289.4 580.0,288.7 580.2,290.7 580.5,295.3 580.8,300.5 581.0,304.4 581.2,307.9 581.5,311.0 581.8,313.4 582.0,315.6 582.2,317.3 582.5,318.0 582.8,316.8 583.0,314.2 583.2,311.7 583.5,310.5 583.8,310.8 584.0,311.7 584.2,312.8 584.5,314.1 584.8,315.2 585.0,316.5 585.2,317.9 585.5,319.5 585.8,320.9 586.0,322.2 586.2,323.2 586.5,324.1 586.8,324.9 587.0,325.6 587.2,326.2 587.5,326.5 587.8,326.7 588.0,326.8 588.2,326.9 588.5,327.0 588.8,327.1 589.0,327.1 589.2,327.2 589.5,327.2 589.8,327.2 590.0,325.9 590.2,323.0 590.5,319.0 590.8,314.1 591.0,308.8 591.2,303.4 591.5,298.3 591.8,293.9 592.0,290.5 592.2,288.5 592.5,288.6 592.8,292.0 593.0,297.3 593.2,302.2 593.5,305.8 593.8,309.1 594.0,312.0 594.2,314.6 594.5,317.2 594.8,319.1 595.0,319.2 595.2,317.0 595.5,313.7 595.8,311.0 596.0,310.6 596.2,311.1 596.5,312.1 596.8,313.3 597.0,314.5 597.2,315.7 597.5,317.2 597.8,318.7 598.0,320.3 598.2,321.7 598.5,322.7 598.8,323.3 599.0,323.8 599.2,324.3 599.5,324.6 599.8,324.9 600.0,325.1 600.2,325.2 600.5,325.3 600.8,325.4 601.0,325.5 601.2,325.5 601.5,325.6 601.8,325.6 602.0,325.7 602.2,325.7 602.5,325.7 602.8,323.6 603.0,318.0 603.2,310.4 603.5,301.9 603.8,294.0 604.0,287.9 604.2,285.0 604.5,286.7 604.8,292.2 605.0,298.9 605.2,303.8 605.5,307.2 605.8,310.2 606.0,313.0 606.2,316.2 606.5,319.2 606.8,320.9 607.0,319.9 607.2,316.5 607.5,312.8 607.8,310.6 608.0,310.7 608.2,311.5 608.5,312.6 608.8,313.8 609.0,315.0 609.2,316.2 609.5,317.5 609.8,319.0 610.0,320.4 610.2,321.8 610.5,323.0 610.8,324.2 611.0,325.5 611.2,326.7 611.5,327.6 611.8,328.2 612.0,328.3 612.2,328.4 612.5,328.5 612.8,328.6 613.0,328.6 613.2,328.7 613.5,328.7 613.8,328.8 614.0,328.8 614.2,328.8 614.5,328.9 614.8,328.9 615.0,328.9 615.2,328.8 615.5,327.1 615.8,323.5 616.0,318.4 616.2,312.5 616.5,306.4 616.8,300.6 617.0,295.8 617.2,292.4 617.5,291.2 617.8,292.8 618.0,296.5 618.2,300.8 618.5,304.3 618.8,307.8 619.0,311.0 619.2,313.4 619.5,315.6 619.8,317.3 620.0,318.0 620.2,316.8 620.5,314.2 620.8,311.7 621.0,310.5 621.2,310.8 621.5,311.7 621.8,312.8 622.0,314.1 622.2,315.2 622.5,316.5 622.8,317.8 623.0,319.3 623.2,320.7 623.5,322.0 623.8,323.2 624.0,324.4 624.2,325.7 624.5,326.8 624.8,327.6 625.0,328.1 625.2,328.3 625.5,328.4 625.8,328.5 626.0,328.6 626.2,328.7 626.5,328.7 626.8,328.8 627.0,328.8 627.2,328.7 627.5,326.6 627.8,322.2 628.0,316.0 628.2,309.0 628.5,301.8 628.8,295.2 629.0,290.0 629.2,286.9 629.5,286.7 629.8,290.7 630.0,296.7 630.2,302.2 630.5,305.9 630.8,309.1 631.0,312.0 631.2,314.6 631.5,317.2 631.8,319.1 632.0,319.2 632.2,317.0 632.5,313.7 632.8,311.0 633.0,310.6 633.2,311.1 633.5,312.1 633.8,313.3 634.0,314.5 634.2,315.7 634.5,317.0 634.8,318.4 635.0,319.8 635.2,321.2 635.5,322.5 635.8,323.7 636.0,324.9 636.2,326.1 636.5,327.2 636.8,327.9 637.0,328.2 637.2,328.4 637.5,328.5 637.8,328.6 638.0,328.6 638.2,328.7 638.5,328.7 638.8,328.8 639.0,328.8 639.2,328.6 639.5,327.2 639.8,324.9 640.0,321.8 640.2,318.0 640.5,313.9 640.8,309.5 641.0,305.1 641.2,301.0 641.5,297.2 641.8,294.1 642.0,291.8 642.2,290.4 642.5,290.5 642.8,293.4 643.0,297.9 643.2,302.3 643.5,305.6 643.8,308.8 644.0,311.9 644.2,314.8 644.5,318.1 644.8,320.5 645.0,320.7 645.2,318.0 645.5,314.2 645.8,311.1 646.0,310.6 646.2,311.1 646.5,312.1 646.8,313.3 647.0,314.5 647.2,315.7 647.5,316.9 647.8,318.3 648.0,319.7 648.2,321.1 648.5,322.5 648.8,323.9 649.0,325.5 649.2,327.1 649.5,328.5 649.8,329.4 650.0,329.8 650.2,329.9 650.5,330.0 650.8,330.1 651.0,330.2 651.2,330.2 651.5,330.3 651.8,330.3 652.0,330.3 652.2,330.4 652.5,330.4 652.8,330.3 653.0,327.1 653.2,320.4 653.5,311.7 653.8,302.5 654.0,294.0 654.2,288.0 654.5,285.6 654.8,288.1 655.0,293.9 655.2,300.1 655.5,304.5 655.8,308.0 656.0,311.1 656.2,313.4 656.5,315.6 656.8,317.3 657.0,318.0 657.2,316.8 657.5,314.2 657.8,311.7 658.0,310.5 658.2,310.8 658.5,311.7 658.8,312.8 659.0,314.1 659.2,315.2 659.5,316.4 659.8,317.8 660.0,319.2 660.2,320.6 660.5,322.0 660.8,323.2 661.0,324.5 661.2,325.9 661.5,327.1 661.8,328.1 662.0,328.5 662.2,328.6 662.5,328.7 662.8,328.8 663.0,328.9 663.2,328.9 663.5,329.0 663.8,329.0 664.0,329.1 664.2,329.1 664.5,329.1 664.8,329.2 665.0,329.2 665.2,329.2 665.5,328.8 665.8,325.2 666.0,318.6 666.2,310.4 666.5,302.0 666.8,294.6 667.0,289.6 667.2,288.3 667.5,291.1 667.8,296.2 668.0,301.4 668.2,305.1 668.5,308.4 668.8,311.4 669.0,314.0 669.2,316.7 669.5,318.9 669.8,319.4 670.0,317.6 670.2,314.3 670.5,311.4 670.8,310.5 671.0,311.0 671.2,311.9 671.5,313.1 671.8,314.3 672.0,315.5 672.2,316.8 672.5,318.2 672.8,319.8 673.0,321.2 673.2,322.4 673.5,323.4 673.8,324.2 674.0,325.1 674.2,325.8 674.5,326.3 674.8,326.5 675.0,326.7 675.2,326.8 675.5,326.9 675.8,326.9 676.0,327.0 676.2,327.0 676.5,327.1 676.8,327.1 677.0,327.1 677.2,327.2 677.5,327.2 677.8,327.2 678.0,326.4 678.2,323.5 678.5,318.8 678.8,312.7 679.0,305.4 679.2,297.4" stroke="#858585" stroke-width="1.4" stroke-dasharray="5,3"/>
<path d="M425.0,316.4 425.2,316.4 425.5,316.4 425.8,316.4 426.0,316.4 426.2,316.4 426.5,316.4 426.8,316.4 427.0,316.4 427.2,316.4 427.5,316.4 427.8,316.4 428.0,316.4 428.2,316.4 428.5,316.4 428.8,316.4 429.0,316.4 429.2,316.4 429.5,316.4 429.8,316.4 430.0,316.4 430.2,316.4 430.5,316.4 430.8,316.4 431.0,316.4 431.2,316.4 431.5,316.4 431.8,316.4 432.0,316.4 432.2,316.4 432.5,316.4 432.8,316.4 433.0,316.4 433.2,316.4 433.5,316.4 433.8,316.4 434.0,316.4 434.2,316.4 434.5,316.4 434.8,316.4 435.0,316.4 435.2,316.4 435.5,316.4 435.8,316.4 436.0,316.4 436.2,316.4 436.5,316.4 436.8,316.4 437.0,316.4 437.2,316.4 437.5,316.4 437.8,316.4 438.0,316.4 438.2,316.4 438.5,316.4 438.8,316.4 439.0,316.4 439.2,316.4 439.5,316.4 439.8,316.4 440.0,316.4 440.2,316.4 440.5,316.4 440.8,316.4 441.0,316.4 441.2,316.4 441.5,316.4 441.8,316.4 442.0,316.4 442.2,316.4 442.5,316.4 442.8,316.4 443.0,316.4 443.2,316.4 443.5,316.4 443.8,316.4 444.0,316.4 444.2,316.4 444.5,316.4 444.8,316.4 445.0,316.4 445.2,316.4 445.5,316.4 445.8,316.4 446.0,316.4 446.2,316.4 446.5,316.4 446.8,316.4 447.0,316.4 447.2,316.4 447.5,316.4 447.8,316.4 448.0,316.4 448.2,316.4 448.5,316.4 448.8,316.4 449.0,316.4 449.2,316.4 449.5,316.4 449.8,316.4 450.0,316.4 450.2,316.4 450.5,316.4 450.8,316.4 451.0,316.4 451.2,316.4 451.5,316.4 451.8,316.4 452.0,316.4 452.2,316.4 452.5,316.4 452.8,316.4 453.0,316.4 453.2,316.4 453.5,316.4 453.8,316.4 454.0,316.4 454.2,316.4 454.5,316.4 454.8,316.4 455.0,316.4 455.2,316.4 455.5,316.4 455.8,316.4 456.0,316.4 456.2,316.4 456.5,316.4 456.8,316.4 457.0,316.4 457.2,316.4 457.5,316.4 457.8,316.4 458.0,316.4 458.2,316.4 458.5,316.4 458.8,316.4 459.0,316.4 459.2,316.4 459.5,316.4 459.8,316.4 460.0,316.4 460.2,316.4 460.5,316.4 460.8,316.4 461.0,316.4 461.2,316.4 461.5,316.4 461.8,316.4 462.0,316.4 462.2,316.4 462.5,316.4 462.8,316.4 463.0,316.4 463.2,316.4 463.5,316.4 463.8,316.4 464.0,316.4 464.2,316.4 464.5,316.4 464.8,316.4 465.0,316.4 465.2,316.4 465.5,316.4 465.8,316.4 466.0,316.4 466.2,316.4 466.5,316.4 466.8,316.4 467.0,316.4 467.2,316.4 467.5,316.4 467.8,316.4 468.0,316.4 468.2,316.4 468.5,316.4 468.8,316.4 469.0,316.4 469.2,316.4 469.5,316.4 469.8,316.4 470.0,316.4 470.2,316.4 470.5,316.4 470.8,316.4 471.0,316.3 471.2,316.3 471.5,316.3 471.8,316.2 472.0,316.2 472.2,316.2 472.5,316.1 472.8,316.1 473.0,316.0 473.2,316.0 473.5,315.9 473.8,315.9 474.0,315.8 474.2,315.7 474.5,315.7 474.8,315.6 475.0,315.5 475.2,315.3 475.5,315.2 475.8,315.1 476.0,314.9 476.2,314.8 476.5,314.6 476.8,314.5 477.0,314.4 477.2,314.2 477.5,314.1 477.8,314.0 478.0,313.9 478.2,313.8 478.5,313.7 478.8,313.7 479.0,313.6 479.2,313.6 479.5,313.6 479.8,313.7 480.0,313.7 480.2,313.8 480.5,314.0 480.8,314.1 481.0,314.3 481.2,314.5 481.5,314.7 481.8,314.9 482.0,315.1 482.2,315.3 482.5,315.6 482.8,315.8 483.0,316.0 483.2,316.3 483.5,316.5 483.8,316.8 484.0,317.1 484.2,317.4 484.5,317.8 484.8,318.2 485.0,318.6 485.2,319.0 485.5,319.4 485.8,319.7 486.0,320.0 486.2,320.3 486.5,320.5 486.8,320.7 487.0,320.7 487.2,320.5 487.5,320.1 487.8,319.5 488.0,318.6 488.2,317.6 488.5,316.5 488.8,315.2 489.0,314.0 489.2,312.4 489.5,310.2 489.8,307.6 490.0,304.9 490.2,302.2 490.5,299.8 490.8,297.7 491.0,295.5 491.2,293.2 491.5,291.1 491.8,289.5 492.0,288.7 492.2,288.7 492.5,289.5 492.8,290.7 493.0,292.3 493.2,294.1 493.5,295.8 493.8,297.3 494.0,298.8 494.2,300.4 494.5,302.1 494.8,303.7 495.0,305.3 495.2,306.7 495.5,308.0 495.8,309.3 496.0,310.5 496.2,311.6 496.5,312.7 496.8,313.8 497.0,314.8 497.2,315.8 497.5,316.8 497.8,317.7 498.0,318.7 498.2,319.6 498.5,320.5 498.8,321.3 499.0,322.1 499.2,322.9 499.5,323.7 499.8,324.4 500.0,325.1 500.2,325.8 500.5,326.6 500.8,327.3 501.0,327.9 501.2,328.5 501.5,328.8 501.8,329.0 502.0,328.9 502.2,328.4 502.5,327.5 502.8,324.5 503.0,319.5 503.2,313.4 503.5,306.9 503.8,300.8 504.0,295.8 504.2,292.8 504.5,292.4 504.8,293.5 505.0,295.5 505.2,297.8 505.5,300.0 505.8,302.3 506.0,304.8 506.2,306.7 506.5,308.0 506.8,309.1 507.0,310.1 507.2,310.8 507.5,311.0 507.8,310.9 508.0,310.8 508.2,310.6 508.5,310.5 508.8,311.2 509.0,313.0 509.2,315.2 509.5,317.3 509.8,318.9 510.0,320.4 510.2,321.8 510.5,323.2 510.8,324.4 511.0,325.4 511.2,326.4 511.5,327.3 511.8,328.1 512.0,328.7 512.2,329.0 512.5,329.2 512.8,329.3 513.0,329.4 513.2,329.5 513.5,329.5 513.8,329.6 514.0,329.6 514.2,328.3 514.5,324.8 514.8,319.7 515.0,313.6 515.2,307.2 515.5,301.0 515.8,295.6 516.0,291.8 516.2,290.0 516.5,290.5 516.8,292.6 517.0,295.5 517.2,298.5 517.5,300.9 517.8,303.4 518.0,305.7 518.2,307.2 518.5,308.5 518.8,309.6 519.0,310.4 519.2,310.9 519.5,311.0 519.8,310.9 520.0,310.7 520.2,310.5 520.5,310.6 520.8,311.8 521.0,313.9 521.2,316.1 521.5,318.0 521.8,319.5 522.0,321.0 522.2,322.4 522.5,323.7 522.8,324.8 523.0,325.8 523.2,326.9 523.5,327.8 523.8,328.5 524.0,328.9 524.2,329.1 524.5,329.2 524.8,329.3 525.0,329.4 525.2,329.5 525.5,329.6 525.8,329.6 526.0,329.7 526.2,329.7 526.5,329.7 526.8,328.2 527.0,324.3 527.2,318.7 527.5,312.1 527.8,305.5 528.0,299.4 528.2,294.7 528.5,292.1 528.8,292.2 529.0,293.6 529.2,295.8 529.5,298.2 529.8,300.4 530.0,302.8 530.2,305.2 530.5,307.0 530.8,308.2 531.0,309.4 531.2,310.3 531.5,310.8 531.8,311.0 532.0,310.9 532.2,310.7 532.5,310.6 532.8,310.5 533.0,311.5 533.2,313.4 533.5,315.7 533.8,317.7 534.0,319.2 534.2,320.8 534.5,322.3 534.8,323.7 535.0,324.7 535.2,325.4 535.5,326.0 535.8,326.5 536.0,326.9 536.2,327.2 536.5,327.3 536.8,327.5 537.0,327.6 537.2,327.6 537.5,327.7 537.8,327.8 538.0,327.8 538.2,327.9 538.5,327.9 538.8,328.0 539.0,328.0 539.2,328.0 539.5,327.3 539.8,324.6 540.0,320.4 540.2,315.2 540.5,309.4 540.8,303.5 541.0,298.0 541.2,293.3 541.5,290.0 541.8,288.4 542.0,289.1 542.2,291.6 542.5,295.0 542.8,298.3 543.0,301.0 543.2,303.5 543.5,305.7 543.8,307.2 544.0,308.5 544.2,309.6 544.5,310.4 544.8,310.9 545.0,311.0 545.2,310.9 545.5,310.7 545.8,310.5 546.0,310.6 546.2,311.8 546.5,313.9 546.8,316.1 547.0,318.0 547.2,319.6 547.5,321.2 547.8,322.7 548.0,324.0 548.2,324.9 548.5,325.4 548.8,325.8 549.0,326.2 549.2,326.5 549.5,326.7 549.8,326.9 550.0,327.0 550.2,327.1 550.5,327.2 550.8,327.3 551.0,327.4 551.2,327.4 551.5,327.5 551.8,327.5 552.0,327.2 552.2,324.7 552.5,319.9 552.8,313.8 553.0,307.1 553.2,300.5 553.5,294.9 553.8,290.9 554.0,289.4 554.2,290.4 554.5,292.8 554.8,296.0 555.0,299.0 555.2,301.4 555.5,303.9 555.8,306.1 556.0,307.5 556.2,308.7 556.5,309.7 556.8,310.5 557.0,311.0 557.2,311.0 557.5,310.8 557.8,310.6 558.0,310.5 558.2,310.8 558.5,312.2 558.8,314.3 559.0,316.5 559.2,318.3 559.5,319.8 559.8,321.3 560.0,322.6 560.2,323.9 560.5,325.0 560.8,326.0 561.0,327.1 561.2,328.0 561.5,328.6 561.8,328.9 562.0,329.1 562.2,329.2 562.5,329.3 562.8,329.3 563.0,329.4 563.2,329.4 563.5,329.5 563.8,329.5 564.0,329.6 564.2,329.6 564.5,329.7 564.8,329.7 565.0,329.7 565.2,328.9 565.5,324.7 565.8,318.0 566.0,310.0 566.2,302.0 566.5,295.3 566.8,291.1 567.0,290.5 567.2,292.0 567.5,294.5 567.8,297.4 568.0,300.0 568.2,302.4 568.5,304.8 568.8,306.7 569.0,308.0 569.2,309.1 569.5,310.1 569.8,310.8 570.0,311.0 570.2,310.9 570.5,310.8 570.8,310.6 571.0,310.5 571.2,311.2 571.5,313.0 571.8,315.2 572.0,317.3 572.2,318.9 572.5,320.5 572.8,322.0 573.0,323.4 573.2,324.5 573.5,325.3 573.8,325.9 574.0,326.4 574.2,326.8 574.5,327.1 574.8,327.3 575.0,327.5 575.2,327.6 575.5,327.7 575.8,327.8 576.0,327.8 576.2,327.9 576.5,327.9 576.8,328.0 577.0,328.0 577.2,327.7 577.5,326.3 577.8,323.7 578.0,320.2 578.2,316.2 578.5,311.7 578.8,307.1 579.0,302.6 579.2,298.4 579.5,294.9 579.8,292.1 580.0,290.4 580.2,289.9 580.5,291.2 580.8,293.7 581.0,296.7 581.2,299.5 581.5,301.9 581.8,304.4 582.0,306.4 582.2,307.7 582.5,308.9 582.8,309.9 583.0,310.7 583.2,311.0 583.5,310.9 583.8,310.8 584.0,310.6 584.2,310.5 584.5,311.0 584.8,312.6 585.0,314.8 585.2,316.9 585.5,318.6 585.8,320.2 586.0,321.7 586.2,323.2 586.5,324.3 586.8,325.1 587.0,325.7 587.2,326.3 587.5,326.7 587.8,327.0 588.0,327.3 588.2,327.5 588.5,327.6 588.8,327.7 589.0,327.8 589.2,327.9 589.5,327.9 589.8,328.0 590.0,328.0 590.2,327.0 590.5,324.2 590.8,320.1 591.0,315.0 591.2,309.4 591.5,303.8 591.8,298.5 592.0,293.9 592.2,290.5 592.5,288.8 592.8,289.0 593.0,291.2 593.2,294.4 593.5,297.7 593.8,300.5 594.0,303.0 594.2,305.3 594.5,307.0 594.8,308.2 595.0,309.4 595.2,310.3 595.5,310.8 595.8,311.0 596.0,310.9 596.2,310.7 596.5,310.6 596.8,310.5 597.0,311.5 597.2,313.4 597.5,315.7 597.8,317.7 598.0,319.3 598.2,321.0 598.5,322.6 598.8,324.0 599.0,324.8 599.2,325.1 599.5,325.3 599.8,325.4 600.0,325.6 600.2,325.7 600.5,325.8 600.8,326.0 601.0,326.1 601.2,326.2 601.5,326.3 601.8,326.3 602.0,326.4 602.2,326.5 602.5,326.5 602.8,326.5 603.0,325.1 603.2,320.2 603.5,313.0 603.8,305.0 604.0,297.5 604.2,292.0 604.5,289.9 604.8,290.8 605.0,293.2 605.2,296.1 605.5,299.0 605.8,301.4 606.0,303.9 606.2,306.1 606.5,307.5 606.8,308.7 607.0,309.7 607.2,310.5 607.5,311.0 607.8,311.0 608.0,310.8 608.2,310.6 608.5,310.5 608.8,310.8 609.0,312.2 609.2,314.3 609.5,316.5 609.8,318.3 610.0,319.8 610.2,321.3 610.5,322.6 610.8,323.9 611.0,325.0 611.2,326.0 611.5,327.1 611.8,328.0 612.0,328.6 612.2,328.9 612.5,329.1 612.8,329.2 613.0,329.3 613.2,329.3 613.5,329.4 613.8,329.4 614.0,329.5 614.2,329.6 614.5,329.6 614.8,329.6 615.0,329.7 615.2,329.7 615.5,329.7 615.8,328.4 616.0,324.8 616.2,319.6 616.5,313.5 616.8,307.1 617.0,301.1 617.2,296.2 617.5,293.0 617.8,292.1 618.0,293.1 618.2,295.0 618.5,297.3 618.8,299.6 619.0,301.8 619.2,304.3 619.5,306.4 619.8,307.7 620.0,308.9 620.2,309.9 620.5,310.7 620.8,311.0 621.0,310.9 621.2,310.8 621.5,310.6 621.8,310.5 622.0,311.0 622.2,312.6 622.5,314.8 622.8,316.9 623.0,318.6 623.2,320.1 623.5,321.6 623.8,322.9 624.0,324.1 624.2,325.2 624.5,326.2 624.8,327.2 625.0,328.0 625.2,328.6 625.5,328.9 625.8,329.1 626.0,329.2 626.2,329.3 626.5,329.4 626.8,329.5 627.0,329.5 627.2,329.6 627.5,329.6 627.8,328.1 628.0,324.0 628.2,318.3 628.5,311.5 628.8,304.7 629.0,298.4 629.2,293.6 629.5,291.0 629.8,291.0 630.0,292.7 630.2,295.3 630.5,298.0 630.8,300.4 631.0,302.9 631.2,305.3 631.5,307.0 631.8,308.2 632.0,309.4 632.2,310.3 632.5,310.8 632.8,311.0 633.0,310.9 633.2,310.7 633.5,310.6 633.8,310.5 634.0,311.5 634.2,313.4 634.5,315.7 634.8,317.7 635.0,319.2 635.2,320.7 635.5,322.1 635.8,323.4 636.0,324.6 636.2,325.6 636.5,326.6 636.8,327.5 637.0,328.3 637.2,328.7 637.5,329.0 637.8,329.2 638.0,329.3 638.2,329.4 638.5,329.4 638.8,329.5 639.0,329.6 639.2,329.6 639.5,329.5 639.8,328.3 640.0,326.0 640.2,322.8 640.5,319.0 640.8,314.7 641.0,310.1 641.2,305.6 641.5,301.3 641.8,297.5 642.0,294.3 642.2,292.0 642.5,290.8 642.8,291.0 643.0,292.7 643.2,295.3 643.5,298.0 643.8,300.4 644.0,302.9 644.2,305.3 644.5,307.0 644.8,308.2 645.0,309.4 645.2,310.3 645.5,310.8 645.8,311.0 646.0,310.9 646.2,310.7 646.5,310.6 646.8,310.5 647.0,311.5 647.2,313.4 647.5,315.7 647.8,317.7 648.0,319.2 648.2,320.6 648.5,322.0 648.8,323.3 649.0,324.5 649.2,325.8 649.5,327.2 649.8,328.6 650.0,329.7 650.2,330.3 650.5,330.6 650.8,330.7 651.0,330.8 651.2,330.9 651.5,330.9 651.8,331.0 652.0,331.1 652.2,331.1 652.5,331.2 652.8,331.2 653.0,331.2 653.2,328.6 653.5,322.0 653.8,312.9 654.0,303.2 654.2,294.6 654.5,288.6 654.8,287.0 655.0,288.7 655.2,292.1 655.5,296.0 655.8,299.5 656.0,302.0 656.2,304.5 656.5,306.4 656.8,307.7 657.0,308.9 657.2,309.9 657.5,310.7 657.8,311.0 658.0,310.9 658.2,310.8 658.5,310.6 658.8,310.5 659.0,311.0 659.2,312.6 659.5,314.8 659.8,316.9 660.0,318.6 660.2,320.1 660.5,321.5 660.8,322.9 661.0,324.1 661.2,325.2 661.5,326.3 661.8,327.4 662.0,328.4 662.2,329.0 662.5,329.3 662.8,329.4 663.0,329.5 663.2,329.6 663.5,329.6 663.8,329.7 664.0,329.8 664.2,329.8 664.5,329.9 664.8,329.9 665.0,329.9 665.2,330.0 665.5,330.0 665.8,329.9 666.0,326.6 666.2,319.8 666.5,311.1 666.8,302.1 667.0,294.4 667.2,289.5 667.5,288.8 667.8,290.6 668.0,293.7 668.2,297.1 668.5,300.0 668.8,302.5 669.0,304.9 669.2,306.7 669.5,308.0 669.8,309.1 670.0,310.1 670.2,310.8 670.5,311.0 670.8,310.9 671.0,310.8 671.2,310.6 671.5,310.5 671.8,311.2 672.0,313.0 672.2,315.2 672.5,317.3 672.8,318.9 673.0,320.5 673.2,322.0 673.5,323.4 673.8,324.5 674.0,325.3 674.2,325.9 674.5,326.4 674.8,326.8 675.0,327.1 675.2,327.3 675.5,327.4 675.8,327.5 676.0,327.6 676.2,327.7 676.5,327.7 676.8,327.8 677.0,327.9 677.2,327.9 677.5,328.0 677.8,328.0 678.0,328.0 678.2,327.3 678.5,323.5 678.8,317.1 679.0,308.7 679.2,299.1" stroke="#ff1010" stroke-width="1.3" stroke-dasharray="1.5,1.5"/>
<path d="M425.0,316.4 425.2,316.4 425.5,316.4 425.8,316.4 426.0,316.4 426.2,316.4 426.5,316.4 426.8,316.4 427.0,316.4 427.2,316.4 427.5,316.4 427.8,316.4 428.0,316.4 428.2,316.4 428.5,316.4 428.8,316.4 429.0,316.4 429.2,316.4 429.5,316.4 429.8,316.4 430.0,316.4 430.2,316.4 430.5,316.4 430.8,316.4 431.0,316.4 431.2,316.4 431.5,316.4 431.8,316.4 432.0,316.4 432.2,316.4 432.5,316.4 432.8,316.4 433.0,316.4 433.2,316.4 433.5,316.4 433.8,316.4 434.0,316.4 434.2,316.4 434.5,316.4 434.8,316.4 435.0,316.4 435.2,316.4 435.5,316.4 435.8,316.4 436.0,316.4 436.2,316.4 436.5,316.4 436.8,316.4 437.0,316.4 437.2,316.4 437.5,316.4 437.8,316.4 438.0,316.4 438.2,316.4 438.5,316.4 438.8,316.4 439.0,316.4 439.2,316.4 439.5,316.4 439.8,316.4 440.0,316.4 440.2,316.4 440.5,316.4 440.8,316.4 441.0,316.4 441.2,316.4 441.5,316.4 441.8,316.4 442.0,316.4 442.2,316.4 442.5,316.4 442.8,316.4 443.0,316.4 443.2,316.4 443.5,316.4 443.8,316.4 444.0,316.4 444.2,316.4 444.5,316.4 444.8,316.4 445.0,316.4 445.2,316.4 445.5,316.4 445.8,316.4 446.0,316.4 446.2,316.4 446.5,316.4 446.8,316.4 447.0,316.4 447.2,316.4 447.5,316.4 447.8,316.4 448.0,316.4 448.2,316.4 448.5,316.4 448.8,316.4 449.0,316.4 449.2,316.4 449.5,316.4 449.8,316.4 450.0,316.4 450.2,316.4 450.5,316.4 450.8,316.4 451.0,316.4 451.2,316.4 451.5,316.4 451.8,316.4 452.0,316.4 452.2,316.4 452.5,316.4 452.8,316.4 453.0,316.4 453.2,316.4 453.5,316.4 453.8,316.4 454.0,316.4 454.2,316.4 454.5,316.4 454.8,316.4 455.0,316.4 455.2,316.4 455.5,316.4 455.8,316.4 456.0,316.4 456.2,316.4 456.5,316.4 456.8,316.4 457.0,316.4 457.2,316.4 457.5,316.4 457.8,316.4 458.0,316.4 458.2,316.4 458.5,316.4 458.8,316.4 459.0,316.4 459.2,316.4 459.5,316.4 459.8,316.4 460.0,316.4 460.2,316.4 460.5,316.4 460.8,316.4 461.0,316.4 461.2,316.4 461.5,316.4 461.8,316.4 462.0,316.4 462.2,316.4 462.5,316.4 462.8,316.4 463.0,316.4 463.2,316.4 463.5,316.4 463.8,316.4 464.0,316.4 464.2,316.4 464.5,316.4 464.8,316.4 465.0,316.4 465.2,316.4 465.5,316.4 465.8,316.4 466.0,316.4 466.2,316.4 466.5,316.4 466.8,316.4 467.0,316.4 467.2,316.4 467.5,316.4 467.8,316.4 468.0,316.4 468.2,316.4 468.5,316.4 468.8,316.4 469.0,316.4 469.2,316.4 469.5,316.4 469.8,316.4 470.0,316.4 470.2,316.4 470.5,316.4 470.8,316.4 471.0,316.3 471.2,316.3 471.5,316.3 471.8,316.2 472.0,316.2 472.2,316.2 472.5,316.1 472.8,316.1 473.0,316.0 473.2,316.0 473.5,315.9 473.8,315.9 474.0,315.8 474.2,315.7 474.5,315.7 474.8,315.6 475.0,315.5 475.2,315.3 475.5,315.2 475.8,315.1 476.0,314.9 476.2,314.8 476.5,314.6 476.8,314.5 477.0,314.4 477.2,314.2 477.5,314.1 477.8,314.0 478.0,313.9 478.2,313.8 478.5,313.7 478.8,313.7 479.0,313.6 479.2,313.6 479.5,313.6 479.8,313.7 480.0,313.7 480.2,313.8 480.5,314.0 480.8,314.1 481.0,314.3 481.2,314.5 481.5,314.7 481.8,314.9 482.0,315.1 482.2,315.3 482.5,315.6 482.8,315.8 483.0,316.0 483.2,316.3 483.5,316.5 483.8,316.8 484.0,317.1 484.2,317.4 484.5,317.8 484.8,318.2 485.0,318.6 485.2,319.0 485.5,319.4 485.8,319.7 486.0,320.0 486.2,320.3 486.5,320.5 486.8,320.7 487.0,320.7 487.2,320.5 487.5,320.1 487.8,319.5 488.0,318.6 488.2,317.6 488.5,316.5 488.8,315.2 489.0,314.0 489.2,312.4 489.5,310.2 489.8,307.6 490.0,304.9 490.2,302.2 490.5,299.8 490.8,297.7 491.0,295.5 491.2,293.2 491.5,291.1 491.8,289.5 492.0,288.7 492.2,288.8 492.5,289.6 492.8,291.0 493.0,292.6 493.2,294.4 493.5,296.0 493.8,297.6 494.0,299.3 494.2,301.1 494.5,302.9 494.8,304.5 495.0,306.0 495.2,307.3 495.5,308.6 495.8,309.8 496.0,310.9 496.2,312.0 496.5,313.0 496.8,314.0 497.0,315.0 497.2,315.9 497.5,316.8 497.8,317.7 498.0,318.6 498.2,319.4 498.5,320.2 498.8,320.9 499.0,321.7 499.2,322.3 499.5,323.0 499.8,323.7 500.0,324.4 500.2,325.1 500.5,325.8 500.8,326.4 501.0,326.9 501.2,327.3 501.5,327.5 501.8,327.5 502.0,327.2 502.2,326.9 502.5,325.3 502.8,320.9 503.0,314.7 503.2,307.6 503.5,300.8 503.8,295.3 504.0,292.3 504.2,292.2 504.5,293.4 504.8,295.4 505.0,297.6 505.2,299.6 505.5,301.5 505.8,303.5 506.0,305.4 506.2,306.8 506.5,308.1 506.8,309.2 507.0,310.2 507.2,310.9 507.5,311.5 507.8,312.1 508.0,312.7 508.2,313.5 508.5,314.6 508.8,315.8 509.0,317.0 509.2,318.2 509.5,319.4 509.8,320.7 510.0,321.9 510.2,323.0 510.5,323.8 510.8,324.7 511.0,325.4 511.2,326.1 511.5,326.6 511.8,326.8 512.0,327.0 512.2,327.1 512.5,327.1 512.8,327.2 513.0,327.2 513.2,327.3 513.5,327.4 513.8,327.4 514.0,327.2 514.2,324.6 514.5,319.9 514.8,313.8 515.0,307.2 515.2,300.6 515.5,295.0 515.8,291.1 516.0,289.6 516.2,290.4 516.5,292.5 516.8,295.3 517.0,298.1 517.2,300.4 517.5,302.4 517.8,304.4 518.0,306.0 518.2,307.4 518.5,308.6 518.8,309.6 519.0,310.5 519.2,311.2 519.5,311.8 519.8,312.3 520.0,313.0 520.2,313.9 520.5,315.1 520.8,316.3 521.0,317.5 521.2,318.7 521.5,319.9 521.8,321.2 522.0,322.3 522.2,323.3 522.5,324.2 522.8,325.0 523.0,325.8 523.2,326.4 523.5,326.8 523.8,327.0 524.0,327.1 524.2,327.1 524.5,327.2 524.8,327.3 525.0,327.3 525.2,327.3 525.5,327.4 525.8,327.4 526.0,327.5 526.2,327.5 526.5,327.2 526.8,324.3 527.0,319.0 527.2,312.4 527.5,305.3 527.8,298.9 528.0,294.0 528.2,291.7 528.5,292.0 528.8,293.5 529.0,295.6 529.2,297.9 529.5,300.0 529.8,301.9 530.0,303.9 530.2,305.7 530.5,307.1 530.8,308.3 531.0,309.4 531.2,310.3 531.5,311.1 531.8,311.6 532.0,312.2 532.2,312.8 532.5,313.7 532.8,314.8 533.0,316.1 533.2,317.3 533.5,318.5 533.8,319.8 534.0,321.2 534.2,322.4 534.5,323.3 534.8,323.8 535.0,324.2 535.2,324.6 535.5,324.9 535.8,325.1 536.0,325.2 536.2,325.3 536.5,325.4 536.8,325.5 537.0,325.5 537.2,325.6 537.5,325.6 537.8,325.6 538.0,325.7 538.2,325.7 538.5,325.8 538.8,325.8 539.0,325.8 539.2,325.7 539.5,324.0 539.8,320.4 540.0,315.3 540.2,309.4 540.5,303.3 540.8,297.5 541.0,292.7 541.2,289.3 541.5,288.1 541.8,289.1 542.0,291.5 542.2,294.7 542.5,297.9 542.8,300.4 543.0,302.5 543.2,304.4 543.5,306.0 543.8,307.4 544.0,308.6 544.2,309.6 544.5,310.5 544.8,311.2 545.0,311.8 545.2,312.3 545.5,313.0 545.8,313.9 546.0,315.1 546.2,316.3 546.5,317.5 546.8,318.8 547.0,320.2 547.2,321.5 547.5,322.7 547.8,323.4 548.0,323.8 548.2,324.1 548.5,324.3 548.8,324.5 549.0,324.7 549.2,324.8 549.5,324.9 549.8,324.9 550.0,325.0 550.2,325.1 550.5,325.1 550.8,325.2 551.0,325.2 551.2,325.3 551.5,325.3 551.8,325.3 552.0,324.2 552.2,320.2 552.5,314.2 552.8,307.2 553.0,300.2 553.2,294.2 553.5,290.2 553.8,289.1 554.0,290.3 554.2,292.8 554.5,295.7 554.8,298.6 555.0,300.8 555.2,302.9 555.5,304.7 555.8,306.3 556.0,307.6 556.2,308.8 556.5,309.8 556.8,310.7 557.0,311.3 557.2,311.9 557.5,312.4 557.8,313.2 558.0,314.2 558.2,315.3 558.5,316.6 558.8,317.7 559.0,318.9 559.2,320.2 559.5,321.4 559.8,322.6 560.0,323.5 560.2,324.4 560.5,325.2 560.8,326.0 561.0,326.5 561.2,326.9 561.5,327.0 561.8,327.1 562.0,327.1 562.2,327.2 562.5,327.2 562.8,327.2 563.0,327.3 563.2,327.3 563.5,327.4 563.8,327.4 564.0,327.4 564.2,327.5 564.5,327.5 564.8,327.5 565.0,327.5 565.2,325.0 565.5,318.8 565.8,310.5 566.0,301.9 566.2,294.6 566.5,290.4 566.8,290.3 567.0,291.9 567.2,294.4 567.5,297.1 567.8,299.6 568.0,301.6 568.2,303.6 568.5,305.4 568.8,306.8 569.0,308.1 569.2,309.2 569.5,310.2 569.8,310.9 570.0,311.5 570.2,312.1 570.5,312.7 570.8,313.5 571.0,314.6 571.2,315.8 571.5,317.0 571.8,318.2 572.0,319.6 572.2,320.9 572.5,322.1 572.8,323.1 573.0,323.7 573.2,324.2 573.5,324.5 573.8,324.8 574.0,325.1 574.2,325.2 574.5,325.3 574.8,325.4 575.0,325.5 575.2,325.5 575.5,325.6 575.8,325.6 576.0,325.7 576.2,325.7 576.5,325.8 576.8,325.8 577.0,325.8 577.2,325.0 577.5,322.9 577.8,319.8 578.0,315.9 578.2,311.4 578.5,306.8 578.8,302.2 579.0,297.9 579.2,294.2 579.5,291.5 579.8,289.9 580.0,289.7 580.2,291.2 580.5,293.6 580.8,296.5 581.0,299.1 581.2,301.2 581.5,303.2 581.8,305.1 582.0,306.6 582.2,307.9 582.5,309.0 582.8,310.0 583.0,310.8 583.2,311.4 583.5,312.0 583.8,312.6 584.0,313.3 584.2,314.4 584.5,315.6 584.8,316.8 585.0,318.0 585.2,319.3 585.5,320.6 585.8,321.9 586.0,322.9 586.2,323.6 586.5,324.1 586.8,324.5 587.0,324.8 587.2,325.0 587.5,325.2 587.8,325.3 588.0,325.4 588.2,325.5 588.5,325.6 588.8,325.6 589.0,325.7 589.2,325.7 589.5,325.8 589.8,325.8 590.0,325.6 590.2,323.6 590.5,319.9 590.8,315.0 591.0,309.4 591.2,303.6 591.5,298.0 591.8,293.3 592.0,289.9 592.2,288.3 592.5,288.9 592.8,291.1 593.0,294.2 593.2,297.4 593.5,300.0 593.8,302.1 594.0,304.0 594.2,305.7 594.5,307.1 594.8,308.3 595.0,309.4 595.2,310.3 595.5,311.1 595.8,311.6 596.0,312.2 596.2,312.8 596.5,313.7 596.8,314.8 597.0,316.1 597.2,317.3 597.5,318.5 597.8,320.0 598.0,321.5 598.2,322.7 598.5,323.4 598.8,323.5 599.0,323.6 599.2,323.6 599.5,323.6 599.8,323.7 600.0,323.7 600.2,323.8 600.5,323.9 600.8,324.0 601.0,324.0 601.2,324.1 601.5,324.1 601.8,324.2 602.0,324.2 602.2,324.3 602.5,324.3 602.8,324.2 603.0,320.7 603.2,313.7 603.5,305.2 603.8,297.1 604.0,291.3 604.2,289.6 604.5,290.8 604.8,293.1 605.0,295.9 605.2,298.6 605.5,300.8 605.8,302.8 606.0,304.7 606.2,306.3 606.5,307.6 606.8,308.8 607.0,309.8 607.2,310.7 607.5,311.3 607.8,311.9 608.0,312.4 608.2,313.2 608.5,314.2 608.8,315.3 609.0,316.6 609.2,317.7 609.5,318.9 609.8,320.2 610.0,321.4 610.2,322.6 610.5,323.5 610.8,324.4 611.0,325.2 611.2,326.0 611.5,326.5 611.8,326.9 612.0,327.0 612.2,327.1 612.5,327.1 612.8,327.2 613.0,327.2 613.2,327.3 613.5,327.3 613.8,327.3 614.0,327.4 614.2,327.4 614.5,327.4 614.8,327.5 615.0,327.5 615.2,327.5 615.5,327.2 615.8,324.6 616.0,319.8 616.2,313.6 616.5,307.0 616.8,300.7 617.0,295.5 617.2,292.4 617.5,291.9 617.8,293.0 618.0,294.8 618.2,297.1 618.5,299.2 618.8,301.1 619.0,303.1 619.2,305.0 619.5,306.6 619.8,307.9 620.0,309.0 620.2,310.0 620.5,310.8 620.8,311.4 621.0,312.0 621.2,312.6 621.5,313.3 621.8,314.4 622.0,315.6 622.2,316.8 622.5,318.0 622.8,319.2 623.0,320.5 623.2,321.7 623.5,322.8 623.8,323.7 624.0,324.5 624.2,325.3 624.5,326.0 624.8,326.5 625.0,326.8 625.2,326.9 625.5,327.0 625.8,327.1 626.0,327.2 626.2,327.2 626.5,327.3 626.8,327.3 627.0,327.4 627.2,327.4 627.5,327.1 627.8,324.1 628.0,318.7 628.2,311.8 628.5,304.6 628.8,297.9 629.0,292.9 629.2,290.5 629.5,290.9 629.8,292.6 630.0,295.1 630.2,297.7 630.5,300.0 630.8,302.0 631.0,304.0 631.2,305.7 631.5,307.1 631.8,308.3 632.0,309.4 632.2,310.3 632.5,311.1 632.8,311.6 633.0,312.2 633.2,312.8 633.5,313.7 633.8,314.8 634.0,316.1 634.2,317.3 634.5,318.4 634.8,319.7 635.0,321.0 635.2,322.1 635.5,323.2 635.8,324.0 636.0,324.8 636.2,325.6 636.5,326.2 636.8,326.7 637.0,326.9 637.2,327.0 637.5,327.1 637.8,327.1 638.0,327.2 638.2,327.2 638.5,327.3 638.8,327.3 639.0,327.4 639.2,327.4 639.5,326.9 639.8,325.2 640.0,322.3 640.2,318.6 640.5,314.4 640.8,309.8 641.0,305.2 641.2,300.8 641.5,296.9 641.8,293.7 642.0,291.4 642.2,290.4 642.5,290.9 642.8,292.6 643.0,295.1 643.2,297.7 643.5,300.0 643.8,302.0 644.0,304.0 644.2,305.7 644.5,307.1 644.8,308.3 645.0,309.4 645.2,310.3 645.5,311.1 645.8,311.6 646.0,312.2 646.2,312.8 646.5,313.7 646.8,314.8 647.0,316.1 647.2,317.3 647.5,318.4 647.8,319.6 648.0,320.8 648.2,322.0 648.5,323.1 648.8,324.2 649.0,325.4 649.2,326.5 649.5,327.5 649.8,328.2 650.0,328.4 650.2,328.5 650.5,328.6 650.8,328.7 651.0,328.7 651.2,328.8 651.5,328.8 651.8,328.9 652.0,328.9 652.2,328.9 652.5,329.0 652.8,329.0 653.0,328.5 653.2,323.2 653.5,314.1 653.8,303.6 654.0,294.0 654.2,287.8 654.5,286.8 654.8,288.7 655.0,292.0 655.2,295.7 655.5,299.0 655.8,301.3 656.0,303.3 656.2,305.1 656.5,306.6 656.8,307.9 657.0,309.0 657.2,310.0 657.5,310.8 657.8,311.4 658.0,312.0 658.2,312.6 658.5,313.3 658.8,314.4 659.0,315.6 659.2,316.8 659.5,318.0 659.8,319.2 660.0,320.4 660.2,321.6 660.5,322.7 660.8,323.7 661.0,324.6 661.2,325.5 661.5,326.3 661.8,326.9 662.0,327.2 662.2,327.3 662.5,327.4 662.8,327.4 663.0,327.5 663.2,327.5 663.5,327.6 663.8,327.6 664.0,327.6 664.2,327.7 664.5,327.7 664.8,327.7 665.0,327.8 665.2,327.8 665.5,327.8 665.8,326.7 666.0,320.9 666.2,312.0 666.5,302.2 666.8,293.7 667.0,288.8 667.2,288.7 667.5,290.6 667.8,293.5 668.0,296.8 668.2,299.6 668.5,301.7 668.8,303.7 669.0,305.4 669.2,306.8 669.5,308.1 669.8,309.2 670.0,310.2 670.2,310.9 670.5,311.5 670.8,312.1 671.0,312.7 671.2,313.5 671.5,314.6 671.8,315.8 672.0,317.0 672.2,318.2 672.5,319.6 672.8,320.9 673.0,322.1 673.2,323.1 673.5,323.7 673.8,324.2 674.0,324.5 674.2,324.9 674.5,325.1 674.8,325.2 675.0,325.3 675.2,325.4 675.5,325.4 675.8,325.5 676.0,325.5 676.2,325.6 676.5,325.6 676.8,325.7 677.0,325.7 677.2,325.7 677.5,325.8 677.8,325.8 678.0,325.8 678.2,324.3 678.5,320.3 678.8,314.2 679.0,306.6 679.2,298.0" stroke="#222" stroke-width="1.2"/>
</g>
<line x1="72.4" y1="6.3" x2="325.1" y2="6.3" stroke="#3a3a3a" stroke-width="1.4"/>
<line x1="72.4" y1="166.0" x2="325.1" y2="166.0" stroke="#5a5a5a" stroke-width="1.5"/>
<line x1="73.3" y1="6.3" x2="73.3" y2="166.0" stroke="#8a8a8a" stroke-width="1.4"/>
<line x1="324.5" y1="6.3" x2="324.5" y2="166.0" stroke="#8a8a8a" stroke-width="1.4"/>
<line x1="73.0" y1="46.22" x2="77.0" y2="46.22" stroke="#333" stroke-width="1.3"/>
<line x1="73.0" y1="126.08" x2="77.0" y2="126.08" stroke="#333" stroke-width="1.3"/>
<line x1="123.30" y1="166.0" x2="123.30" y2="162.0" stroke="#333" stroke-width="1.3"/>
<line x1="173.60" y1="166.0" x2="173.60" y2="162.0" stroke="#333" stroke-width="1.3"/>
<line x1="223.90" y1="166.0" x2="223.90" y2="162.0" stroke="#333" stroke-width="1.3"/>
<line x1="274.20" y1="166.0" x2="274.20" y2="162.0" stroke="#333" stroke-width="1.3"/>
<text x="60.20" y="11.00" font-size="14" text-anchor="end" >0.12</text>
<text x="60.20" y="50.92" font-size="14" text-anchor="end" >0.06</text>
<text x="60.20" y="90.85" font-size="14" text-anchor="end" >0</text>
<text x="60.20" y="130.78" font-size="14" text-anchor="end" >-0.06</text>
<text x="60.20" y="170.70" font-size="14" text-anchor="end" >-0.12</text>
<text x="73.00" y="187.40" font-size="14" text-anchor="middle" >0</text>
<text x="123.30" y="187.40" font-size="14" text-anchor="middle" >6</text>
<text x="173.60" y="187.40" font-size="14" text-anchor="middle" >12</text>
<text x="223.90" y="187.40" font-size="14" text-anchor="middle" >18</text>
<text x="274.20" y="187.40" font-size="14" text-anchor="middle" >24</text>
<text x="324.50" y="187.40" font-size="14" text-anchor="middle" >30</text>
<line x1="424.4" y1="6.3" x2="677.1" y2="6.3" stroke="#3a3a3a" stroke-width="1.4"/>
<line x1="424.4" y1="166.0" x2="677.1" y2="166.0" stroke="#5a5a5a" stroke-width="1.5"/>
<line x1="425.3" y1="6.3" x2="425.3" y2="166.0" stroke="#8a8a8a" stroke-width="1.4"/>
<line x1="676.5" y1="6.3" x2="676.5" y2="166.0" stroke="#8a8a8a" stroke-width="1.4"/>
<line x1="425.0" y1="46.22" x2="429.0" y2="46.22" stroke="#333" stroke-width="1.3"/>
<line x1="425.0" y1="126.08" x2="429.0" y2="126.08" stroke="#333" stroke-width="1.3"/>
<line x1="475.30" y1="166.0" x2="475.30" y2="162.0" stroke="#333" stroke-width="1.3"/>
<line x1="525.60" y1="166.0" x2="525.60" y2="162.0" stroke="#333" stroke-width="1.3"/>
<line x1="575.90" y1="166.0" x2="575.90" y2="162.0" stroke="#333" stroke-width="1.3"/>
<line x1="626.20" y1="166.0" x2="626.20" y2="162.0" stroke="#333" stroke-width="1.3"/>
<text x="412.20" y="11.00" font-size="14" text-anchor="end" >0.12</text>
<text x="412.20" y="50.92" font-size="14" text-anchor="end" >0.06</text>
<text x="412.20" y="90.85" font-size="14" text-anchor="end" >0</text>
<text x="412.20" y="130.78" font-size="14" text-anchor="end" >-0.06</text>
<text x="412.20" y="170.70" font-size="14" text-anchor="end" >-0.12</text>
<text x="425.00" y="187.40" font-size="14" text-anchor="middle" >0</text>
<text x="475.30" y="187.40" font-size="14" text-anchor="middle" >6</text>
<text x="525.60" y="187.40" font-size="14" text-anchor="middle" >12</text>
<text x="575.90" y="187.40" font-size="14" text-anchor="middle" >18</text>
<text x="626.20" y="187.40" font-size="14" text-anchor="middle" >24</text>
<text x="676.50" y="187.40" font-size="14" text-anchor="middle" >30</text>
<line x1="72.4" y1="236.3" x2="325.1" y2="236.3" stroke="#3a3a3a" stroke-width="1.4"/>
<line x1="72.4" y1="396.0" x2="325.1" y2="396.0" stroke="#5a5a5a" stroke-width="1.5"/>
<line x1="73.3" y1="236.3" x2="73.3" y2="396.0" stroke="#8a8a8a" stroke-width="1.4"/>
<line x1="324.5" y1="236.3" x2="324.5" y2="396.0" stroke="#8a8a8a" stroke-width="1.4"/>
<line x1="73.0" y1="276.23" x2="77.0" y2="276.23" stroke="#333" stroke-width="1.3"/>
<line x1="73.0" y1="356.08" x2="77.0" y2="356.08" stroke="#333" stroke-width="1.3"/>
<line x1="123.30" y1="396.0" x2="123.30" y2="392.0" stroke="#333" stroke-width="1.3"/>
<line x1="173.60" y1="396.0" x2="173.60" y2="392.0" stroke="#333" stroke-width="1.3"/>
<line x1="223.90" y1="396.0" x2="223.90" y2="392.0" stroke="#333" stroke-width="1.3"/>
<line x1="274.20" y1="396.0" x2="274.20" y2="392.0" stroke="#333" stroke-width="1.3"/>
<text x="60.20" y="241.00" font-size="14" text-anchor="end" >0.12</text>
<text x="60.20" y="280.93" font-size="14" text-anchor="end" >0.06</text>
<text x="60.20" y="320.85" font-size="14" text-anchor="end" >0</text>
<text x="60.20" y="360.78" font-size="14" text-anchor="end" >-0.06</text>
<text x="60.20" y="400.70" font-size="14" text-anchor="end" >-0.12</text>
<text x="73.00" y="417.40" font-size="14" text-anchor="middle" >0</text>
<text x="123.30" y="417.40" font-size="14" text-anchor="middle" >6</text>
<text x="173.60" y="417.40" font-size="14" text-anchor="middle" >12</text>
<text x="223.90" y="417.40" font-size="14" text-anchor="middle" >18</text>
<text x="274.20" y="417.40" font-size="14" text-anchor="middle" >24</text>
<text x="324.50" y="417.40" font-size="14" text-anchor="middle" >30</text>
<line x1="424.4" y1="236.3" x2="677.1" y2="236.3" stroke="#3a3a3a" stroke-width="1.4"/>
<line x1="424.4" y1="396.0" x2="677.1" y2="396.0" stroke="#5a5a5a" stroke-width="1.5"/>
<line x1="425.3" y1="236.3" x2="425.3" y2="396.0" stroke="#8a8a8a" stroke-width="1.4"/>
<line x1="676.5" y1="236.3" x2="676.5" y2="396.0" stroke="#8a8a8a" stroke-width="1.4"/>
<line x1="425.0" y1="276.23" x2="429.0" y2="276.23" stroke="#333" stroke-width="1.3"/>
<line x1="425.0" y1="356.08" x2="429.0" y2="356.08" stroke="#333" stroke-width="1.3"/>
<line x1="475.30" y1="396.0" x2="475.30" y2="392.0" stroke="#333" stroke-width="1.3"/>
<line x1="525.60" y1="396.0" x2="525.60" y2="392.0" stroke="#333" stroke-width="1.3"/>
<line x1="575.90" y1="396.0" x2="575.90" y2="392.0" stroke="#333" stroke-width="1.3"/>
<line x1="626.20" y1="396.0" x2="626.20" y2="392.0" stroke="#333" stroke-width="1.3"/>
<text x="412.20" y="241.00" font-size="14" text-anchor="end" >0.12</text>
<text x="412.20" y="280.93" font-size="14" text-anchor="end" >0.06</text>
<text x="412.20" y="320.85" font-size="14" text-anchor="end" >0</text>
<text x="412.20" y="360.78" font-size="14" text-anchor="end" >-0.06</text>
<text x="412.20" y="400.70" font-size="14" text-anchor="end" >-0.12</text>
<text x="425.00" y="417.40" font-size="14" text-anchor="middle" >0</text>
<text x="475.30" y="417.40" font-size="14" text-anchor="middle" >6</text>
<text x="525.60" y="417.40" font-size="14" text-anchor="middle" >12</text>
<text x="575.90" y="417.40" font-size="14" text-anchor="middle" >18</text>
<text x="626.20" y="417.40" font-size="14" text-anchor="middle" >24</text>
<text x="676.50" y="417.40" font-size="14" text-anchor="middle" >30</text>
<text transform="translate(20.3,89.6) rotate(-90)" font-size="14.3" text-anchor="middle">Wave profile (m)</text>
<text transform="translate(374.8,88.6) rotate(-90)" font-size="14.3" text-anchor="middle">Wave profile (m)</text>
<text transform="translate(22.2,320.3) rotate(-90)" font-size="14.3" text-anchor="middle">Wave profile (m)</text>
<text transform="translate(375.7,319.3) rotate(-90)" font-size="14.3" text-anchor="middle">Wave profile (m)</text>
<text x="160.8" y="204" font-size="14.3">Time <tspan font-style="italic">t</tspan> (s)</text>
<text x="516.2" y="203.7" font-size="14.3">Time <tspan font-style="italic">t</tspan> (s)</text>
<text x="162.2" y="434.1" font-size="14.3">Time <tspan font-style="italic">t</tspan> (s)</text>
<text x="516.9" y="433.6" font-size="14.3">Time <tspan font-style="italic">t</tspan> (s)</text>
<text x="1.0" y="204.6" font-size="16.5" letter-spacing="0.4">(a)</text>
<text x="355.1" y="205" font-size="16.5" letter-spacing="0.4">(b)</text>
<text x="1.0" y="434.4" font-size="16.5" letter-spacing="0.4">(c)</text>
<text x="355.0" y="433.2" font-size="16.5" letter-spacing="0.4">(d)</text>
<line x1="83.7" y1="139.9" x2="115.1" y2="139.9" stroke="#858585" stroke-width="2" stroke-dasharray="6.8,5.6"/>
<line x1="84" y1="154.7" x2="114.4" y2="154.7" stroke="#444" stroke-width="1.5"/>
<line x1="208.8" y1="139.6" x2="239.3" y2="139.6" stroke="#ff3030" stroke-width="1.1" stroke-dasharray="2.2,1.2"/>
<text x="118.80" y="144.60" font-size="14" text-anchor="start" >WG1 no veg</text>
<text x="118.80" y="159.20" font-size="14" text-anchor="start" >WG1 veg2</text>
<text x="243.10" y="144.60" font-size="14" text-anchor="start" >WG1 veg1</text>
<line x1="437.4" y1="136" x2="469.4" y2="136" stroke="#777" stroke-width="2" stroke-dasharray="7.2,5.5"/>
<line x1="438" y1="152" x2="469" y2="152" stroke="#a8a8a8" stroke-width="1.5"/>
<line x1="560.9" y1="136.2" x2="591" y2="136.2" stroke="#ff3030" stroke-width="1.1" stroke-dasharray="2.2,1.2"/>
<text x="472.70" y="140.70" font-size="14" text-anchor="start" >WG2 no veg</text>
<text x="472.70" y="156.80" font-size="14" text-anchor="start" >WG2 veg2</text>
<text x="595.20" y="140.70" font-size="14" text-anchor="start" >WG2 veg1</text>
<line x1="88" y1="366.8" x2="119.8" y2="366.8" stroke="#888" stroke-width="2" stroke-dasharray="6.7,5.7"/>
<line x1="88.4" y1="383.4" x2="119" y2="383.4" stroke="#222" stroke-width="1.2"/>
<line x1="208.8" y1="366.6" x2="239.3" y2="366.6" stroke="#ff3030" stroke-width="1.1" stroke-dasharray="2.2,1.2"/>
<text x="122.90" y="371.10" font-size="14" text-anchor="start" >WG3 no veg</text>
<text x="122.90" y="388.00" font-size="14" text-anchor="start" >WG3 veg2</text>
<text x="243.10" y="371.10" font-size="14" text-anchor="start" >WG3 veg1</text>
<line x1="439.2" y1="361.5" x2="466" y2="361.5" stroke="#999" stroke-width="1.2" stroke-dasharray="5.9,4.6"/>
<line x1="439.4" y1="379.2" x2="470.1" y2="379.2" stroke="#444" stroke-width="1.5"/>
<line x1="560" y1="361.2" x2="590.1" y2="361.2" stroke="#ff3030" stroke-width="1.1" stroke-dasharray="2.2,1.2"/>
<text x="473.80" y="366.20" font-size="14" text-anchor="start" >WG4 no veg</text>
<text x="473.80" y="383.50" font-size="14" text-anchor="start" >WG4 veg2</text>
<text x="594.00" y="366.20" font-size="14" text-anchor="start" >WG4 veg1</text>
</svg></body></html>
